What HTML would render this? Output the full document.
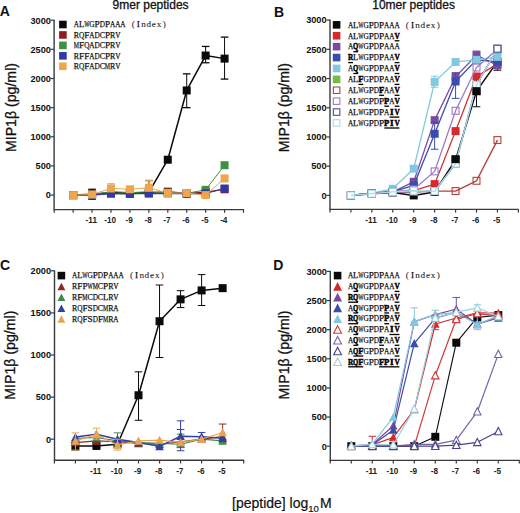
<!DOCTYPE html><html><head><meta charset="utf-8"><style>
html,body{margin:0;padding:0;background:#fff;overflow:hidden;width:520px;height:513px;}
svg{display:block;}
text{font-family:"Liberation Sans",sans-serif;fill:#111;}
.yl{font-size:9.2px;font-weight:bold;}
.xl{font-size:8.2px;font-weight:bold;fill:#222;}
.pl{font-size:14px;font-weight:bold;}
.ti{font-size:12px;stroke:#111;stroke-width:0.3px;}
.yt{font-size:14.15px;stroke:#111;stroke-width:0.3px;}
.lr{font-family:"Liberation Serif",serif;font-size:9.2px;fill:#111;stroke:#111;stroke-width:0.25px;}
.ll{font-family:"Liberation Serif",serif;font-size:9.2px;fill:#222;stroke:#222;stroke-width:0.08px;}
.lb{font-family:"Liberation Serif",serif;font-size:9.2px;font-weight:bold;fill:#000;stroke:#000;stroke-width:0.5px;}
.xt{font-size:14px;stroke:#111;stroke-width:0.2px;}
</style></head><body>
<svg width="520" height="513" viewBox="0 0 520 513">
<rect width="520" height="513" fill="#fff"/>
<text x="-0.2" y="16.4" class="pl">A</text>
<text x="273.9" y="16.6" class="pl">B</text>
<text x="0.0" y="270.1" class="pl">C</text>
<text x="273.2" y="270.4" class="pl">D</text>
<text x="150.6" y="8.8" text-anchor="middle" class="ti">9mer peptides</text>
<text x="413.6" y="8.8" text-anchor="middle" class="ti">10mer peptides</text>
<text transform="translate(16,107.55) rotate(-90)" text-anchor="middle" class="yt">MIP1&#946; (pg/ml)</text>
<text transform="translate(289.4,107.65) rotate(-90)" text-anchor="middle" class="yt">MIP1&#946; (pg/ml)</text>
<text transform="translate(15,355.15) rotate(-90)" text-anchor="middle" class="yt">MIP1&#946; (pg/ml)</text>
<text transform="translate(289.2,354.95) rotate(-90)" text-anchor="middle" class="yt">MIP1&#946; (pg/ml)</text>
<text x="232" y="507.5" class="xt">[peptide] log<tspan font-size="9.5px" dy="4.2">10</tspan><tspan dx="1.2" dy="-4.2">M</tspan></text>
<line x1="54.1" y1="19.7" x2="54.1" y2="209.6" stroke="#3a3a3a" stroke-width="1.4"/>
<line x1="53.4" y1="209.6" x2="244" y2="209.6" stroke="#3a3a3a" stroke-width="1.4"/>
<line x1="50.6" y1="195.1" x2="54.1" y2="195.1" stroke="#3a3a3a" stroke-width="1.2"/>
<text x="50.9" y="198.4" text-anchor="end" class="yl">0</text>
<line x1="50.6" y1="165.95" x2="54.1" y2="165.95" stroke="#3a3a3a" stroke-width="1.2"/>
<text x="50.9" y="169.25" text-anchor="end" class="yl">500</text>
<line x1="50.6" y1="136.8" x2="54.1" y2="136.8" stroke="#3a3a3a" stroke-width="1.2"/>
<text x="50.9" y="140.1" text-anchor="end" class="yl">1000</text>
<line x1="50.6" y1="107.65" x2="54.1" y2="107.65" stroke="#3a3a3a" stroke-width="1.2"/>
<text x="50.9" y="110.95" text-anchor="end" class="yl">1500</text>
<line x1="50.6" y1="78.5" x2="54.1" y2="78.5" stroke="#3a3a3a" stroke-width="1.2"/>
<text x="50.9" y="81.8" text-anchor="end" class="yl">2000</text>
<line x1="50.6" y1="49.35" x2="54.1" y2="49.35" stroke="#3a3a3a" stroke-width="1.2"/>
<text x="50.9" y="52.65" text-anchor="end" class="yl">2500</text>
<line x1="50.6" y1="20.2" x2="54.1" y2="20.2" stroke="#3a3a3a" stroke-width="1.2"/>
<text x="50.9" y="23.5" text-anchor="end" class="yl">3000</text>
<line x1="54.2" y1="209.6" x2="54.2" y2="212.8" stroke="#3a3a3a" stroke-width="1.2"/>
<line x1="73.13" y1="209.6" x2="73.13" y2="212.8" stroke="#3a3a3a" stroke-width="1.2"/>
<line x1="92.06" y1="209.6" x2="92.06" y2="212.8" stroke="#3a3a3a" stroke-width="1.2"/>
<line x1="110.99" y1="209.6" x2="110.99" y2="212.8" stroke="#3a3a3a" stroke-width="1.2"/>
<line x1="129.92" y1="209.6" x2="129.92" y2="212.8" stroke="#3a3a3a" stroke-width="1.2"/>
<line x1="148.85" y1="209.6" x2="148.85" y2="212.8" stroke="#3a3a3a" stroke-width="1.2"/>
<line x1="167.78" y1="209.6" x2="167.78" y2="212.8" stroke="#3a3a3a" stroke-width="1.2"/>
<line x1="186.71" y1="209.6" x2="186.71" y2="212.8" stroke="#3a3a3a" stroke-width="1.2"/>
<line x1="205.64" y1="209.6" x2="205.64" y2="212.8" stroke="#3a3a3a" stroke-width="1.2"/>
<line x1="224.57" y1="209.6" x2="224.57" y2="212.8" stroke="#3a3a3a" stroke-width="1.2"/>
<line x1="243.5" y1="209.6" x2="243.5" y2="212.8" stroke="#3a3a3a" stroke-width="1.2"/>
<text x="91.26" y="223.4" text-anchor="middle" class="xl">-11</text>
<text x="110.19" y="223.4" text-anchor="middle" class="xl">-10</text>
<text x="129.12" y="223.4" text-anchor="middle" class="xl">-9</text>
<text x="148.05" y="223.4" text-anchor="middle" class="xl">-8</text>
<text x="166.98" y="223.4" text-anchor="middle" class="xl">-7</text>
<text x="185.91" y="223.4" text-anchor="middle" class="xl">-6</text>
<text x="204.84" y="223.4" text-anchor="middle" class="xl">-5</text>
<text x="223.77" y="223.4" text-anchor="middle" class="xl">-4</text>
<line x1="330" y1="19.6" x2="330" y2="209.4" stroke="#3a3a3a" stroke-width="1.4"/>
<line x1="329.3" y1="209.4" x2="518.87" y2="209.4" stroke="#3a3a3a" stroke-width="1.4"/>
<line x1="326.5" y1="195.4" x2="330" y2="195.4" stroke="#3a3a3a" stroke-width="1.2"/>
<text x="326.6" y="198.7" text-anchor="end" class="yl">0</text>
<line x1="326.5" y1="166.18" x2="330" y2="166.18" stroke="#3a3a3a" stroke-width="1.2"/>
<text x="326.6" y="169.48" text-anchor="end" class="yl">500</text>
<line x1="326.5" y1="136.97" x2="330" y2="136.97" stroke="#3a3a3a" stroke-width="1.2"/>
<text x="326.6" y="140.27" text-anchor="end" class="yl">1000</text>
<line x1="326.5" y1="107.75" x2="330" y2="107.75" stroke="#3a3a3a" stroke-width="1.2"/>
<text x="326.6" y="111.05" text-anchor="end" class="yl">1500</text>
<line x1="326.5" y1="78.53" x2="330" y2="78.53" stroke="#3a3a3a" stroke-width="1.2"/>
<text x="326.6" y="81.83" text-anchor="end" class="yl">2000</text>
<line x1="326.5" y1="49.32" x2="330" y2="49.32" stroke="#3a3a3a" stroke-width="1.2"/>
<text x="326.6" y="52.62" text-anchor="end" class="yl">2500</text>
<line x1="326.5" y1="20.1" x2="330" y2="20.1" stroke="#3a3a3a" stroke-width="1.2"/>
<text x="326.6" y="23.4" text-anchor="end" class="yl">3000</text>
<line x1="330" y1="209.4" x2="330" y2="212.6" stroke="#3a3a3a" stroke-width="1.2"/>
<line x1="350.93" y1="209.4" x2="350.93" y2="212.6" stroke="#3a3a3a" stroke-width="1.2"/>
<line x1="371.86" y1="209.4" x2="371.86" y2="212.6" stroke="#3a3a3a" stroke-width="1.2"/>
<line x1="392.79" y1="209.4" x2="392.79" y2="212.6" stroke="#3a3a3a" stroke-width="1.2"/>
<line x1="413.72" y1="209.4" x2="413.72" y2="212.6" stroke="#3a3a3a" stroke-width="1.2"/>
<line x1="434.65" y1="209.4" x2="434.65" y2="212.6" stroke="#3a3a3a" stroke-width="1.2"/>
<line x1="455.58" y1="209.4" x2="455.58" y2="212.6" stroke="#3a3a3a" stroke-width="1.2"/>
<line x1="476.51" y1="209.4" x2="476.51" y2="212.6" stroke="#3a3a3a" stroke-width="1.2"/>
<line x1="497.44" y1="209.4" x2="497.44" y2="212.6" stroke="#3a3a3a" stroke-width="1.2"/>
<line x1="518.37" y1="209.4" x2="518.37" y2="212.6" stroke="#3a3a3a" stroke-width="1.2"/>
<text x="371.06" y="223.2" text-anchor="middle" class="xl">-11</text>
<text x="391.99" y="223.2" text-anchor="middle" class="xl">-10</text>
<text x="412.92" y="223.2" text-anchor="middle" class="xl">-9</text>
<text x="433.85" y="223.2" text-anchor="middle" class="xl">-8</text>
<text x="454.78" y="223.2" text-anchor="middle" class="xl">-7</text>
<text x="475.71" y="223.2" text-anchor="middle" class="xl">-6</text>
<text x="496.64" y="223.2" text-anchor="middle" class="xl">-5</text>
<line x1="54.5" y1="270.3" x2="54.5" y2="460.3" stroke="#3a3a3a" stroke-width="1.4"/>
<line x1="53.8" y1="460.3" x2="244.17" y2="460.3" stroke="#3a3a3a" stroke-width="1.4"/>
<line x1="51" y1="439.2" x2="54.5" y2="439.2" stroke="#3a3a3a" stroke-width="1.2"/>
<text x="51" y="442.5" text-anchor="end" class="yl">0</text>
<line x1="51" y1="397.1" x2="54.5" y2="397.1" stroke="#3a3a3a" stroke-width="1.2"/>
<text x="51" y="400.4" text-anchor="end" class="yl">500</text>
<line x1="51" y1="355" x2="54.5" y2="355" stroke="#3a3a3a" stroke-width="1.2"/>
<text x="51" y="358.3" text-anchor="end" class="yl">1000</text>
<line x1="51" y1="312.9" x2="54.5" y2="312.9" stroke="#3a3a3a" stroke-width="1.2"/>
<text x="51" y="316.2" text-anchor="end" class="yl">1500</text>
<line x1="51" y1="270.8" x2="54.5" y2="270.8" stroke="#3a3a3a" stroke-width="1.2"/>
<text x="51" y="274.1" text-anchor="end" class="yl">2000</text>
<line x1="54.4" y1="460.3" x2="54.4" y2="463.5" stroke="#3a3a3a" stroke-width="1.2"/>
<line x1="75.43" y1="460.3" x2="75.43" y2="463.5" stroke="#3a3a3a" stroke-width="1.2"/>
<line x1="96.46" y1="460.3" x2="96.46" y2="463.5" stroke="#3a3a3a" stroke-width="1.2"/>
<line x1="117.49" y1="460.3" x2="117.49" y2="463.5" stroke="#3a3a3a" stroke-width="1.2"/>
<line x1="138.52" y1="460.3" x2="138.52" y2="463.5" stroke="#3a3a3a" stroke-width="1.2"/>
<line x1="159.55" y1="460.3" x2="159.55" y2="463.5" stroke="#3a3a3a" stroke-width="1.2"/>
<line x1="180.58" y1="460.3" x2="180.58" y2="463.5" stroke="#3a3a3a" stroke-width="1.2"/>
<line x1="201.61" y1="460.3" x2="201.61" y2="463.5" stroke="#3a3a3a" stroke-width="1.2"/>
<line x1="222.64" y1="460.3" x2="222.64" y2="463.5" stroke="#3a3a3a" stroke-width="1.2"/>
<line x1="243.67" y1="460.3" x2="243.67" y2="463.5" stroke="#3a3a3a" stroke-width="1.2"/>
<text x="95.66" y="474.1" text-anchor="middle" class="xl">-11</text>
<text x="116.69" y="474.1" text-anchor="middle" class="xl">-10</text>
<text x="137.72" y="474.1" text-anchor="middle" class="xl">-9</text>
<text x="158.75" y="474.1" text-anchor="middle" class="xl">-8</text>
<text x="179.78" y="474.1" text-anchor="middle" class="xl">-7</text>
<text x="200.81" y="474.1" text-anchor="middle" class="xl">-6</text>
<text x="221.84" y="474.1" text-anchor="middle" class="xl">-5</text>
<line x1="330.3" y1="270.9" x2="330.3" y2="460.4" stroke="#3a3a3a" stroke-width="1.4"/>
<line x1="329.6" y1="460.4" x2="519.8" y2="460.4" stroke="#3a3a3a" stroke-width="1.4"/>
<line x1="326.8" y1="446.2" x2="330.3" y2="446.2" stroke="#3a3a3a" stroke-width="1.2"/>
<text x="326.9" y="449.5" text-anchor="end" class="yl">0</text>
<line x1="326.8" y1="417.07" x2="330.3" y2="417.07" stroke="#3a3a3a" stroke-width="1.2"/>
<text x="326.9" y="420.37" text-anchor="end" class="yl">500</text>
<line x1="326.8" y1="387.93" x2="330.3" y2="387.93" stroke="#3a3a3a" stroke-width="1.2"/>
<text x="326.9" y="391.23" text-anchor="end" class="yl">1000</text>
<line x1="326.8" y1="358.8" x2="330.3" y2="358.8" stroke="#3a3a3a" stroke-width="1.2"/>
<text x="326.9" y="362.1" text-anchor="end" class="yl">1500</text>
<line x1="326.8" y1="329.67" x2="330.3" y2="329.67" stroke="#3a3a3a" stroke-width="1.2"/>
<text x="326.9" y="332.97" text-anchor="end" class="yl">2000</text>
<line x1="326.8" y1="300.53" x2="330.3" y2="300.53" stroke="#3a3a3a" stroke-width="1.2"/>
<text x="326.9" y="303.83" text-anchor="end" class="yl">2500</text>
<line x1="326.8" y1="271.4" x2="330.3" y2="271.4" stroke="#3a3a3a" stroke-width="1.2"/>
<text x="326.9" y="274.7" text-anchor="end" class="yl">3000</text>
<line x1="330.3" y1="460.4" x2="330.3" y2="463.6" stroke="#3a3a3a" stroke-width="1.2"/>
<line x1="351.3" y1="460.4" x2="351.3" y2="463.6" stroke="#3a3a3a" stroke-width="1.2"/>
<line x1="372.3" y1="460.4" x2="372.3" y2="463.6" stroke="#3a3a3a" stroke-width="1.2"/>
<line x1="393.3" y1="460.4" x2="393.3" y2="463.6" stroke="#3a3a3a" stroke-width="1.2"/>
<line x1="414.3" y1="460.4" x2="414.3" y2="463.6" stroke="#3a3a3a" stroke-width="1.2"/>
<line x1="435.3" y1="460.4" x2="435.3" y2="463.6" stroke="#3a3a3a" stroke-width="1.2"/>
<line x1="456.3" y1="460.4" x2="456.3" y2="463.6" stroke="#3a3a3a" stroke-width="1.2"/>
<line x1="477.3" y1="460.4" x2="477.3" y2="463.6" stroke="#3a3a3a" stroke-width="1.2"/>
<line x1="498.3" y1="460.4" x2="498.3" y2="463.6" stroke="#3a3a3a" stroke-width="1.2"/>
<line x1="519.3" y1="460.4" x2="519.3" y2="463.6" stroke="#3a3a3a" stroke-width="1.2"/>
<text x="371.5" y="474.2" text-anchor="middle" class="xl">-11</text>
<text x="392.5" y="474.2" text-anchor="middle" class="xl">-10</text>
<text x="413.5" y="474.2" text-anchor="middle" class="xl">-9</text>
<text x="434.5" y="474.2" text-anchor="middle" class="xl">-8</text>
<text x="455.5" y="474.2" text-anchor="middle" class="xl">-7</text>
<text x="476.5" y="474.2" text-anchor="middle" class="xl">-6</text>
<text x="497.5" y="474.2" text-anchor="middle" class="xl">-5</text>
<line x1="92.06" y1="199.18" x2="92.06" y2="189.27" stroke="#0a0a0a" stroke-width="1"/>
<line x1="88.26" y1="199.18" x2="95.86" y2="199.18" stroke="#0a0a0a" stroke-width="1.3"/>
<line x1="88.26" y1="189.27" x2="95.86" y2="189.27" stroke="#0a0a0a" stroke-width="1.3"/>
<line x1="148.85" y1="195.1" x2="148.85" y2="180.53" stroke="#0a0a0a" stroke-width="1"/>
<line x1="145.05" y1="195.1" x2="152.65" y2="195.1" stroke="#0a0a0a" stroke-width="1.3"/>
<line x1="145.05" y1="180.53" x2="152.65" y2="180.53" stroke="#0a0a0a" stroke-width="1.3"/>
<line x1="186.71" y1="107.65" x2="186.71" y2="73.84" stroke="#0a0a0a" stroke-width="1"/>
<line x1="182.91" y1="107.65" x2="190.51" y2="107.65" stroke="#0a0a0a" stroke-width="1.3"/>
<line x1="182.91" y1="73.84" x2="190.51" y2="73.84" stroke="#0a0a0a" stroke-width="1.3"/>
<line x1="205.64" y1="62.76" x2="205.64" y2="46.44" stroke="#0a0a0a" stroke-width="1"/>
<line x1="201.84" y1="62.76" x2="209.44" y2="62.76" stroke="#0a0a0a" stroke-width="1.3"/>
<line x1="201.84" y1="46.44" x2="209.44" y2="46.44" stroke="#0a0a0a" stroke-width="1.3"/>
<line x1="224.57" y1="79.08" x2="224.57" y2="37.11" stroke="#0a0a0a" stroke-width="1"/>
<line x1="220.77" y1="79.08" x2="228.37" y2="79.08" stroke="#0a0a0a" stroke-width="1.3"/>
<line x1="220.77" y1="37.11" x2="228.37" y2="37.11" stroke="#0a0a0a" stroke-width="1.3"/>
<path d="M73.13,195.1 L92.06,194.23 L110.99,192.48 L129.92,192.77 L148.85,192.48 L167.78,159.71 L186.71,90.45 L205.64,55.53 L224.57,58.62" fill="none" stroke="#0a0a0a" stroke-width="1.5" stroke-linejoin="round"/>
<rect x="69.13" y="191.1" width="8" height="8" fill="#0a0a0a"/>
<rect x="88.06" y="190.23" width="8" height="8" fill="#0a0a0a"/>
<rect x="106.99" y="188.48" width="8" height="8" fill="#0a0a0a"/>
<rect x="125.92" y="188.77" width="8" height="8" fill="#0a0a0a"/>
<rect x="144.85" y="188.48" width="8" height="8" fill="#0a0a0a"/>
<rect x="163.78" y="155.71" width="8" height="8" fill="#0a0a0a"/>
<rect x="182.71" y="86.45" width="8" height="8" fill="#0a0a0a"/>
<rect x="201.64" y="51.53" width="8" height="8" fill="#0a0a0a"/>
<rect x="220.57" y="54.62" width="8" height="8" fill="#0a0a0a"/>
<path d="M73.13,195.1 L92.06,194.52 L110.99,193.35 L129.92,193.93 L148.85,192.77 L167.78,191.6 L186.71,193.35 L205.64,192.19 L224.57,189.27" fill="none" stroke="#8c1d22" stroke-width="1.2" stroke-linejoin="round"/>
<rect x="69.13" y="191.1" width="8" height="8" fill="#8c1d22"/>
<rect x="88.06" y="190.52" width="8" height="8" fill="#8c1d22"/>
<rect x="106.99" y="189.35" width="8" height="8" fill="#8c1d22"/>
<rect x="125.92" y="189.93" width="8" height="8" fill="#8c1d22"/>
<rect x="144.85" y="188.77" width="8" height="8" fill="#8c1d22"/>
<rect x="163.78" y="187.6" width="8" height="8" fill="#8c1d22"/>
<rect x="182.71" y="189.35" width="8" height="8" fill="#8c1d22"/>
<rect x="201.64" y="188.19" width="8" height="8" fill="#8c1d22"/>
<rect x="220.57" y="185.27" width="8" height="8" fill="#8c1d22"/>
<path d="M73.13,195.1 L92.06,194.81 L110.99,191.6 L129.92,192.77 L148.85,191.6 L167.78,192.77 L186.71,193.35 L205.64,189.85 L224.57,165.19" fill="none" stroke="#3f8f44" stroke-width="1.0" stroke-linejoin="round"/>
<rect x="69.13" y="191.1" width="8" height="8" fill="#3f8f44"/>
<rect x="88.06" y="190.81" width="8" height="8" fill="#3f8f44"/>
<rect x="106.99" y="187.6" width="8" height="8" fill="#3f8f44"/>
<rect x="125.92" y="188.77" width="8" height="8" fill="#3f8f44"/>
<rect x="144.85" y="187.6" width="8" height="8" fill="#3f8f44"/>
<rect x="163.78" y="188.77" width="8" height="8" fill="#3f8f44"/>
<rect x="182.71" y="189.35" width="8" height="8" fill="#3f8f44"/>
<rect x="201.64" y="185.85" width="8" height="8" fill="#3f8f44"/>
<rect x="220.57" y="161.19" width="8" height="8" fill="#3f8f44"/>
<path d="M73.13,195.1 L92.06,195.1 L110.99,193.64 L129.92,193.64 L148.85,193.64 L167.78,193.35 L186.71,193.93 L205.64,193.35 L224.57,188.51" fill="none" stroke="#2f3aa3" stroke-width="1.2" stroke-linejoin="round"/>
<rect x="69.13" y="191.1" width="8" height="8" fill="#2f3aa3"/>
<rect x="88.06" y="191.1" width="8" height="8" fill="#2f3aa3"/>
<rect x="106.99" y="189.64" width="8" height="8" fill="#2f3aa3"/>
<rect x="125.92" y="189.64" width="8" height="8" fill="#2f3aa3"/>
<rect x="144.85" y="189.64" width="8" height="8" fill="#2f3aa3"/>
<rect x="163.78" y="189.35" width="8" height="8" fill="#2f3aa3"/>
<rect x="182.71" y="189.93" width="8" height="8" fill="#2f3aa3"/>
<rect x="201.64" y="189.35" width="8" height="8" fill="#2f3aa3"/>
<rect x="220.57" y="184.51" width="8" height="8" fill="#2f3aa3"/>
<line x1="110.99" y1="191.6" x2="110.99" y2="183.73" stroke="#eda54e" stroke-width="1"/>
<line x1="107.19" y1="191.6" x2="114.79" y2="191.6" stroke="#eda54e" stroke-width="1.0"/>
<line x1="107.19" y1="183.73" x2="114.79" y2="183.73" stroke="#eda54e" stroke-width="1.0"/>
<line x1="148.85" y1="190.44" x2="148.85" y2="180.53" stroke="#eda54e" stroke-width="1"/>
<line x1="145.05" y1="190.44" x2="152.65" y2="190.44" stroke="#eda54e" stroke-width="1.0"/>
<line x1="145.05" y1="180.53" x2="152.65" y2="180.53" stroke="#eda54e" stroke-width="1.0"/>
<path d="M73.13,195.1 L92.06,194.52 L110.99,188.4 L129.92,189.27 L148.85,187.81 L167.78,193.06 L186.71,193.06 L205.64,195.1 L224.57,178.43" fill="none" stroke="#eda54e" stroke-width="1.0" stroke-linejoin="round"/>
<rect x="69.13" y="191.1" width="8" height="8" fill="#eda54e"/>
<rect x="88.06" y="190.52" width="8" height="8" fill="#eda54e"/>
<rect x="106.99" y="184.4" width="8" height="8" fill="#eda54e"/>
<rect x="125.92" y="185.27" width="8" height="8" fill="#eda54e"/>
<rect x="144.85" y="183.81" width="8" height="8" fill="#eda54e"/>
<rect x="163.78" y="189.06" width="8" height="8" fill="#eda54e"/>
<rect x="182.71" y="189.06" width="8" height="8" fill="#eda54e"/>
<rect x="201.64" y="191.1" width="8" height="8" fill="#eda54e"/>
<rect x="220.57" y="174.43" width="8" height="8" fill="#eda54e"/>
<rect x="59.1" y="20.7" width="7.6" height="7.6" fill="#0a0a0a"/>
<text x="73.85" y="27.3" class="lr" textLength="5.26" lengthAdjust="spacingAndGlyphs">A</text>
<text x="79.01" y="27.3" class="lr" textLength="5.26" lengthAdjust="spacingAndGlyphs">L</text>
<text x="84.17" y="27.3" class="lr" textLength="5.26" lengthAdjust="spacingAndGlyphs">W</text>
<text x="89.33" y="27.3" class="lr" textLength="5.26" lengthAdjust="spacingAndGlyphs">G</text>
<text x="97.12" y="27.3" text-anchor="middle" class="lr">P</text>
<text x="99.65" y="27.3" class="lr" textLength="5.26" lengthAdjust="spacingAndGlyphs">D</text>
<text x="107.44" y="27.3" text-anchor="middle" class="lr">P</text>
<text x="109.97" y="27.3" class="lr" textLength="5.26" lengthAdjust="spacingAndGlyphs">A</text>
<text x="115.13" y="27.3" class="lr" textLength="5.26" lengthAdjust="spacingAndGlyphs">A</text>
<text x="120.29" y="27.3" class="lr" textLength="5.26" lengthAdjust="spacingAndGlyphs">A</text>
<text x="133.24" y="27.3" text-anchor="middle" class="ll">(</text>
<text x="138.4" y="27.3" text-anchor="middle" class="lr">I</text>
<text x="143.56" y="27.3" text-anchor="middle" class="ll">n</text>
<text x="148.72" y="27.3" text-anchor="middle" class="ll">d</text>
<text x="153.88" y="27.3" text-anchor="middle" class="ll">e</text>
<text x="159.04" y="27.3" text-anchor="middle" class="ll">x</text>
<text x="164.2" y="27.3" text-anchor="middle" class="ll">)</text>
<rect x="59.1" y="31.15" width="7.6" height="7.6" fill="#8c1d22"/>
<text x="73.85" y="37.75" class="lr" textLength="5.26" lengthAdjust="spacingAndGlyphs">R</text>
<text x="79.01" y="37.75" class="lr" textLength="5.26" lengthAdjust="spacingAndGlyphs">Q</text>
<text x="86.8" y="37.75" text-anchor="middle" class="lr">F</text>
<text x="89.33" y="37.75" class="lr" textLength="5.26" lengthAdjust="spacingAndGlyphs">A</text>
<text x="94.49" y="37.75" class="lr" textLength="5.26" lengthAdjust="spacingAndGlyphs">D</text>
<text x="99.65" y="37.75" class="lr" textLength="5.26" lengthAdjust="spacingAndGlyphs">C</text>
<text x="107.44" y="37.75" text-anchor="middle" class="lr">P</text>
<text x="109.97" y="37.75" class="lr" textLength="5.26" lengthAdjust="spacingAndGlyphs">R</text>
<text x="115.13" y="37.75" class="lr" textLength="5.26" lengthAdjust="spacingAndGlyphs">V</text>
<rect x="59.1" y="41.6" width="7.6" height="7.6" fill="#3f8f44"/>
<text x="73.85" y="48.2" class="lr" textLength="5.26" lengthAdjust="spacingAndGlyphs">M</text>
<text x="81.64" y="48.2" text-anchor="middle" class="lr">F</text>
<text x="84.17" y="48.2" class="lr" textLength="5.26" lengthAdjust="spacingAndGlyphs">Q</text>
<text x="89.33" y="48.2" class="lr" textLength="5.26" lengthAdjust="spacingAndGlyphs">A</text>
<text x="94.49" y="48.2" class="lr" textLength="5.26" lengthAdjust="spacingAndGlyphs">D</text>
<text x="99.65" y="48.2" class="lr" textLength="5.26" lengthAdjust="spacingAndGlyphs">C</text>
<text x="107.44" y="48.2" text-anchor="middle" class="lr">P</text>
<text x="109.97" y="48.2" class="lr" textLength="5.26" lengthAdjust="spacingAndGlyphs">R</text>
<text x="115.13" y="48.2" class="lr" textLength="5.26" lengthAdjust="spacingAndGlyphs">V</text>
<rect x="59.1" y="52.05" width="7.6" height="7.6" fill="#2f3aa3"/>
<text x="73.85" y="58.65" class="lr" textLength="5.26" lengthAdjust="spacingAndGlyphs">R</text>
<text x="81.64" y="58.65" text-anchor="middle" class="lr">F</text>
<text x="86.8" y="58.65" text-anchor="middle" class="lr">F</text>
<text x="89.33" y="58.65" class="lr" textLength="5.26" lengthAdjust="spacingAndGlyphs">A</text>
<text x="94.49" y="58.65" class="lr" textLength="5.26" lengthAdjust="spacingAndGlyphs">D</text>
<text x="99.65" y="58.65" class="lr" textLength="5.26" lengthAdjust="spacingAndGlyphs">C</text>
<text x="107.44" y="58.65" text-anchor="middle" class="lr">P</text>
<text x="109.97" y="58.65" class="lr" textLength="5.26" lengthAdjust="spacingAndGlyphs">R</text>
<text x="115.13" y="58.65" class="lr" textLength="5.26" lengthAdjust="spacingAndGlyphs">V</text>
<rect x="59.1" y="62.5" width="7.6" height="7.6" fill="#eda54e"/>
<text x="73.85" y="69.1" class="lr" textLength="5.26" lengthAdjust="spacingAndGlyphs">R</text>
<text x="79.01" y="69.1" class="lr" textLength="5.26" lengthAdjust="spacingAndGlyphs">Q</text>
<text x="86.8" y="69.1" text-anchor="middle" class="lr">F</text>
<text x="89.33" y="69.1" class="lr" textLength="5.26" lengthAdjust="spacingAndGlyphs">A</text>
<text x="94.49" y="69.1" class="lr" textLength="5.26" lengthAdjust="spacingAndGlyphs">D</text>
<text x="99.65" y="69.1" class="lr" textLength="5.26" lengthAdjust="spacingAndGlyphs">C</text>
<text x="104.81" y="69.1" class="lr" textLength="5.26" lengthAdjust="spacingAndGlyphs">M</text>
<text x="109.97" y="69.1" class="lr" textLength="5.26" lengthAdjust="spacingAndGlyphs">R</text>
<text x="115.13" y="69.1" class="lr" textLength="5.26" lengthAdjust="spacingAndGlyphs">V</text>
<line x1="476.51" y1="106.76" x2="476.51" y2="75.61" stroke="#0a0a0a" stroke-width="1"/>
<line x1="472.71" y1="106.76" x2="480.31" y2="106.76" stroke="#0a0a0a" stroke-width="1.0"/>
<line x1="472.71" y1="75.61" x2="480.31" y2="75.61" stroke="#0a0a0a" stroke-width="1.0"/>
<line x1="497.44" y1="70.24" x2="497.44" y2="46.63" stroke="#0a0a0a" stroke-width="1"/>
<line x1="493.64" y1="70.24" x2="501.24" y2="70.24" stroke="#0a0a0a" stroke-width="1.0"/>
<line x1="493.64" y1="46.63" x2="501.24" y2="46.63" stroke="#0a0a0a" stroke-width="1.0"/>
<rect x="346.93" y="191.4" width="8" height="8" fill="#0a0a0a"/>
<rect x="367.86" y="189.65" width="8" height="8" fill="#0a0a0a"/>
<rect x="388.79" y="188.48" width="8" height="8" fill="#0a0a0a"/>
<rect x="409.72" y="191.4" width="8" height="8" fill="#0a0a0a"/>
<rect x="430.65" y="187.89" width="8" height="8" fill="#0a0a0a"/>
<rect x="451.58" y="155.87" width="8" height="8" fill="#0a0a0a"/>
<rect x="472.51" y="87.15" width="8" height="8" fill="#0a0a0a"/>
<rect x="493.44" y="57.59" width="8" height="8" fill="#0a0a0a"/>
<path d="M350.93,195.4 L371.86,193.65 L392.79,192.48 L413.72,195.4 L434.65,191.89 L455.58,159.87 L476.51,91.15 L497.44,61.59" fill="none" stroke="#0a0a0a" stroke-width="1.5" stroke-linejoin="round"/>
<rect x="346.93" y="191.4" width="8" height="8" fill="#d42a2e"/>
<rect x="367.86" y="189.06" width="8" height="8" fill="#d42a2e"/>
<rect x="388.79" y="187.89" width="8" height="8" fill="#d42a2e"/>
<rect x="409.72" y="186.73" width="8" height="8" fill="#d42a2e"/>
<rect x="430.65" y="180.12" width="8" height="8" fill="#d42a2e"/>
<rect x="451.58" y="127.12" width="8" height="8" fill="#d42a2e"/>
<rect x="472.51" y="72.49" width="8" height="8" fill="#d42a2e"/>
<rect x="493.44" y="59.93" width="8" height="8" fill="#d42a2e"/>
<path d="M350.93,195.4 L371.86,193.06 L392.79,191.89 L413.72,190.73 L434.65,184.12 L455.58,131.12 L476.51,76.49 L497.44,63.93" fill="none" stroke="#d42a2e" stroke-width="1.3" stroke-linejoin="round"/>
<line x1="476.51" y1="61" x2="476.51" y2="51.07" stroke="#7a4aa0" stroke-width="1"/>
<line x1="472.71" y1="61" x2="480.31" y2="61" stroke="#7a4aa0" stroke-width="1.0"/>
<line x1="472.71" y1="51.07" x2="480.31" y2="51.07" stroke="#7a4aa0" stroke-width="1.0"/>
<rect x="346.93" y="191.4" width="8" height="8" fill="#7a4aa0"/>
<rect x="367.86" y="189.06" width="8" height="8" fill="#7a4aa0"/>
<rect x="388.79" y="187.89" width="8" height="8" fill="#7a4aa0"/>
<rect x="409.72" y="177.79" width="8" height="8" fill="#7a4aa0"/>
<rect x="430.65" y="116.14" width="8" height="8" fill="#7a4aa0"/>
<rect x="451.58" y="72.78" width="8" height="8" fill="#7a4aa0"/>
<rect x="472.51" y="51.16" width="8" height="8" fill="#7a4aa0"/>
<rect x="493.44" y="61.39" width="8" height="8" fill="#7a4aa0"/>
<path d="M350.93,195.4 L371.86,193.06 L392.79,191.89 L413.72,181.79 L434.65,120.14 L455.58,76.78 L476.51,55.16 L497.44,65.39" fill="none" stroke="#7a4aa0" stroke-width="1.3" stroke-linejoin="round"/>
<line x1="434.65" y1="149.24" x2="434.65" y2="122.36" stroke="#3a4cae" stroke-width="1"/>
<line x1="430.85" y1="149.24" x2="438.45" y2="149.24" stroke="#3a4cae" stroke-width="1.0"/>
<line x1="430.85" y1="122.36" x2="438.45" y2="122.36" stroke="#3a4cae" stroke-width="1.0"/>
<line x1="455.58" y1="98.4" x2="455.58" y2="72.69" stroke="#3a4cae" stroke-width="1"/>
<line x1="451.78" y1="98.4" x2="459.38" y2="98.4" stroke="#3a4cae" stroke-width="1.0"/>
<line x1="451.78" y1="72.69" x2="459.38" y2="72.69" stroke="#3a4cae" stroke-width="1.0"/>
<rect x="346.93" y="191.4" width="8" height="8" fill="#3a4cae"/>
<rect x="367.86" y="189.06" width="8" height="8" fill="#3a4cae"/>
<rect x="388.79" y="187.89" width="8" height="8" fill="#3a4cae"/>
<rect x="409.72" y="181.47" width="8" height="8" fill="#3a4cae"/>
<rect x="430.65" y="129.75" width="8" height="8" fill="#3a4cae"/>
<rect x="451.58" y="77.46" width="8" height="8" fill="#3a4cae"/>
<rect x="472.51" y="55.83" width="8" height="8" fill="#3a4cae"/>
<rect x="493.44" y="57.88" width="8" height="8" fill="#3a4cae"/>
<path d="M350.93,195.4 L371.86,193.06 L392.79,191.89 L413.72,185.47 L434.65,133.75 L455.58,81.46 L476.51,59.83 L497.44,61.88" fill="none" stroke="#3a4cae" stroke-width="1.3" stroke-linejoin="round"/>
<line x1="434.65" y1="87.3" x2="434.65" y2="76.2" stroke="#82c8e0" stroke-width="1"/>
<line x1="430.85" y1="87.3" x2="438.45" y2="87.3" stroke="#82c8e0" stroke-width="1.0"/>
<line x1="430.85" y1="76.2" x2="438.45" y2="76.2" stroke="#82c8e0" stroke-width="1.0"/>
<rect x="346.93" y="191.4" width="8" height="8" fill="#82c8e0"/>
<rect x="367.86" y="189.06" width="8" height="8" fill="#82c8e0"/>
<rect x="388.79" y="184.8" width="8" height="8" fill="#82c8e0"/>
<rect x="409.72" y="164.7" width="8" height="8" fill="#82c8e0"/>
<rect x="430.65" y="77.86" width="8" height="8" fill="#82c8e0"/>
<rect x="451.58" y="57.94" width="8" height="8" fill="#82c8e0"/>
<rect x="472.51" y="55.83" width="8" height="8" fill="#82c8e0"/>
<rect x="493.44" y="52.91" width="8" height="8" fill="#82c8e0"/>
<path d="M350.93,195.4 L371.86,193.06 L392.79,188.8 L413.72,168.7 L434.65,81.86 L455.58,61.94 L476.51,59.83 L497.44,56.91" fill="none" stroke="#82c8e0" stroke-width="1.3" stroke-linejoin="round"/>
<rect x="347.48" y="191.95" width="6.9" height="6.9" fill="#fff" stroke="#b8403a" stroke-width="1.1"/>
<rect x="368.41" y="189.61" width="6.9" height="6.9" fill="#fff" stroke="#b8403a" stroke-width="1.1"/>
<rect x="389.34" y="188.44" width="6.9" height="6.9" fill="#fff" stroke="#b8403a" stroke-width="1.1"/>
<rect x="410.27" y="188.44" width="6.9" height="6.9" fill="#fff" stroke="#b8403a" stroke-width="1.1"/>
<rect x="431.2" y="187.63" width="6.9" height="6.9" fill="#fff" stroke="#b8403a" stroke-width="1.1"/>
<rect x="452.13" y="187.63" width="6.9" height="6.9" fill="#fff" stroke="#b8403a" stroke-width="1.1"/>
<rect x="473.06" y="177.34" width="6.9" height="6.9" fill="#fff" stroke="#b8403a" stroke-width="1.1"/>
<rect x="493.99" y="136.61" width="6.9" height="6.9" fill="#fff" stroke="#b8403a" stroke-width="1.1"/>
<path d="M350.93,195.4 L371.86,193.06 L392.79,191.89 L413.72,191.89 L434.65,191.08 L455.58,191.08 L476.51,180.79 L497.44,140.06" fill="none" stroke="#b8403a" stroke-width="1.4" stroke-linejoin="round"/>
<rect x="347.48" y="191.95" width="6.9" height="6.9" fill="#fff" stroke="#9a7ac0" stroke-width="1.1"/>
<rect x="368.41" y="190.2" width="6.9" height="6.9" fill="#fff" stroke="#9a7ac0" stroke-width="1.1"/>
<rect x="389.34" y="188.44" width="6.9" height="6.9" fill="#fff" stroke="#9a7ac0" stroke-width="1.1"/>
<rect x="410.27" y="186.11" width="6.9" height="6.9" fill="#fff" stroke="#9a7ac0" stroke-width="1.1"/>
<rect x="431.2" y="167.93" width="6.9" height="6.9" fill="#fff" stroke="#9a7ac0" stroke-width="1.1"/>
<rect x="452.13" y="107.34" width="6.9" height="6.9" fill="#fff" stroke="#9a7ac0" stroke-width="1.1"/>
<rect x="473.06" y="64.1" width="6.9" height="6.9" fill="#fff" stroke="#9a7ac0" stroke-width="1.1"/>
<rect x="493.99" y="45.87" width="6.9" height="6.9" fill="#fff" stroke="#9a7ac0" stroke-width="1.1"/>
<path d="M350.93,195.4 L371.86,193.65 L392.79,191.89 L413.72,189.56 L434.65,171.38 L455.58,110.79 L476.51,67.55 L497.44,49.32" fill="none" stroke="#9a7ac0" stroke-width="1.3" stroke-linejoin="round"/>
<rect x="347.48" y="191.95" width="6.9" height="6.9" fill="#fff" stroke="#4a4e90" stroke-width="1.1"/>
<rect x="368.41" y="190.2" width="6.9" height="6.9" fill="#fff" stroke="#4a4e90" stroke-width="1.1"/>
<rect x="389.34" y="188.44" width="6.9" height="6.9" fill="#fff" stroke="#4a4e90" stroke-width="1.1"/>
<rect x="410.27" y="188.44" width="6.9" height="6.9" fill="#fff" stroke="#4a4e90" stroke-width="1.1"/>
<rect x="431.2" y="187.63" width="6.9" height="6.9" fill="#fff" stroke="#4a4e90" stroke-width="1.1"/>
<rect x="452.13" y="160.1" width="6.9" height="6.9" fill="#fff" stroke="#4a4e90" stroke-width="1.1"/>
<rect x="473.06" y="81.51" width="6.9" height="6.9" fill="#fff" stroke="#4a4e90" stroke-width="1.1"/>
<rect x="493.99" y="45.28" width="6.9" height="6.9" fill="#fff" stroke="#4a4e90" stroke-width="1.1"/>
<path d="M350.93,195.4 L371.86,193.65 L392.79,191.89 L413.72,191.89 L434.65,191.08 L455.58,163.55 L476.51,84.96 L497.44,48.73" fill="none" stroke="#4a4e90" stroke-width="1.4" stroke-linejoin="round"/>
<rect x="347.48" y="191.95" width="6.9" height="6.9" fill="#fff" stroke="#a8dce4" stroke-width="1.1"/>
<rect x="368.41" y="190.2" width="6.9" height="6.9" fill="#fff" stroke="#a8dce4" stroke-width="1.1"/>
<rect x="389.34" y="188.44" width="6.9" height="6.9" fill="#fff" stroke="#a8dce4" stroke-width="1.1"/>
<rect x="410.27" y="187.28" width="6.9" height="6.9" fill="#fff" stroke="#a8dce4" stroke-width="1.1"/>
<rect x="431.2" y="187.63" width="6.9" height="6.9" fill="#fff" stroke="#a8dce4" stroke-width="1.1"/>
<rect x="452.13" y="160.1" width="6.9" height="6.9" fill="#fff" stroke="#a8dce4" stroke-width="1.1"/>
<rect x="473.06" y="81.51" width="6.9" height="6.9" fill="#fff" stroke="#a8dce4" stroke-width="1.1"/>
<rect x="493.99" y="45.28" width="6.9" height="6.9" fill="#fff" stroke="#a8dce4" stroke-width="1.1"/>
<path d="M350.93,195.4 L371.86,193.65 L392.79,191.89 L413.72,190.73 L434.65,191.08 L455.58,163.55 L476.51,84.96 L497.44,48.73" fill="none" stroke="#a8dce4" stroke-width="1.3" stroke-linejoin="round"/>
<rect x="451.58" y="155.17" width="8" height="8" fill="#0a0a0a"/>
<rect x="472.51" y="87.15" width="8" height="8" fill="#0a0a0a"/>
<rect x="493.99" y="45.28" width="6.9" height="6.9" fill="#fff" stroke="#4a4e90" stroke-width="1.1"/>
<rect x="332.8" y="21.05" width="7.6" height="7.6" fill="#0a0a0a"/>
<text x="347.95" y="27.65" class="lr" textLength="5.26" lengthAdjust="spacingAndGlyphs">A</text>
<text x="353.11" y="27.65" class="lr" textLength="5.26" lengthAdjust="spacingAndGlyphs">L</text>
<text x="358.27" y="27.65" class="lr" textLength="5.26" lengthAdjust="spacingAndGlyphs">W</text>
<text x="363.43" y="27.65" class="lr" textLength="5.26" lengthAdjust="spacingAndGlyphs">G</text>
<text x="371.22" y="27.65" text-anchor="middle" class="lr">P</text>
<text x="373.75" y="27.65" class="lr" textLength="5.26" lengthAdjust="spacingAndGlyphs">D</text>
<text x="381.54" y="27.65" text-anchor="middle" class="lr">P</text>
<text x="384.07" y="27.65" class="lr" textLength="5.26" lengthAdjust="spacingAndGlyphs">A</text>
<text x="389.23" y="27.65" class="lr" textLength="5.26" lengthAdjust="spacingAndGlyphs">A</text>
<text x="394.39" y="27.65" class="lr" textLength="5.26" lengthAdjust="spacingAndGlyphs">A</text>
<text x="407.34" y="27.65" text-anchor="middle" class="ll">(</text>
<text x="412.5" y="27.65" text-anchor="middle" class="lr">I</text>
<text x="417.66" y="27.65" text-anchor="middle" class="ll">n</text>
<text x="422.82" y="27.65" text-anchor="middle" class="ll">d</text>
<text x="427.98" y="27.65" text-anchor="middle" class="ll">e</text>
<text x="433.14" y="27.65" text-anchor="middle" class="ll">x</text>
<text x="438.3" y="27.65" text-anchor="middle" class="ll">)</text>
<rect x="332.8" y="31.95" width="7.6" height="7.6" fill="#d42a2e"/>
<text x="347.95" y="38.55" class="lr" textLength="5.26" lengthAdjust="spacingAndGlyphs">A</text>
<text x="353.11" y="38.55" class="lr" textLength="5.26" lengthAdjust="spacingAndGlyphs">L</text>
<text x="358.27" y="38.55" class="lr" textLength="5.26" lengthAdjust="spacingAndGlyphs">W</text>
<text x="363.43" y="38.55" class="lr" textLength="5.26" lengthAdjust="spacingAndGlyphs">G</text>
<text x="371.22" y="38.55" text-anchor="middle" class="lr">P</text>
<text x="373.75" y="38.55" class="lr" textLength="5.26" lengthAdjust="spacingAndGlyphs">D</text>
<text x="381.54" y="38.55" text-anchor="middle" class="lr">P</text>
<text x="384.07" y="38.55" class="lr" textLength="5.26" lengthAdjust="spacingAndGlyphs">A</text>
<text x="389.23" y="38.55" class="lr" textLength="5.26" lengthAdjust="spacingAndGlyphs">A</text>
<text x="394.39" y="38.55" class="lb" textLength="5.26" lengthAdjust="spacingAndGlyphs">V</text>
<rect x="394.64" y="40.15" width="4.76" height="1.3" fill="#000"/>
<rect x="332.8" y="42.85" width="7.6" height="7.6" fill="#7a4aa0"/>
<text x="347.95" y="49.45" class="lr" textLength="5.26" lengthAdjust="spacingAndGlyphs">A</text>
<text x="353.11" y="49.45" class="lb" textLength="5.26" lengthAdjust="spacingAndGlyphs">Q</text>
<text x="358.27" y="49.45" class="lr" textLength="5.26" lengthAdjust="spacingAndGlyphs">W</text>
<text x="363.43" y="49.45" class="lr" textLength="5.26" lengthAdjust="spacingAndGlyphs">G</text>
<text x="371.22" y="49.45" text-anchor="middle" class="lr">P</text>
<text x="373.75" y="49.45" class="lr" textLength="5.26" lengthAdjust="spacingAndGlyphs">D</text>
<text x="381.54" y="49.45" text-anchor="middle" class="lr">P</text>
<text x="384.07" y="49.45" class="lr" textLength="5.26" lengthAdjust="spacingAndGlyphs">A</text>
<text x="389.23" y="49.45" class="lr" textLength="5.26" lengthAdjust="spacingAndGlyphs">A</text>
<text x="394.39" y="49.45" class="lr" textLength="5.26" lengthAdjust="spacingAndGlyphs">A</text>
<rect x="353.36" y="51.05" width="4.76" height="1.3" fill="#000"/>
<rect x="332.8" y="53.75" width="7.6" height="7.6" fill="#3a4cae"/>
<text x="347.95" y="60.35" class="lb" textLength="5.26" lengthAdjust="spacingAndGlyphs">R</text>
<text x="353.11" y="60.35" class="lr" textLength="5.26" lengthAdjust="spacingAndGlyphs">L</text>
<text x="358.27" y="60.35" class="lr" textLength="5.26" lengthAdjust="spacingAndGlyphs">W</text>
<text x="363.43" y="60.35" class="lr" textLength="5.26" lengthAdjust="spacingAndGlyphs">G</text>
<text x="371.22" y="60.35" text-anchor="middle" class="lr">P</text>
<text x="373.75" y="60.35" class="lr" textLength="5.26" lengthAdjust="spacingAndGlyphs">D</text>
<text x="381.54" y="60.35" text-anchor="middle" class="lr">P</text>
<text x="384.07" y="60.35" class="lr" textLength="5.26" lengthAdjust="spacingAndGlyphs">A</text>
<text x="389.23" y="60.35" class="lr" textLength="5.26" lengthAdjust="spacingAndGlyphs">A</text>
<text x="394.39" y="60.35" class="lb" textLength="5.26" lengthAdjust="spacingAndGlyphs">V</text>
<rect x="348.2" y="61.95" width="4.76" height="1.3" fill="#000"/>
<rect x="394.64" y="61.95" width="4.76" height="1.3" fill="#000"/>
<rect x="332.8" y="64.65" width="7.6" height="7.6" fill="#82c8e0"/>
<text x="347.95" y="71.25" class="lr" textLength="5.26" lengthAdjust="spacingAndGlyphs">A</text>
<text x="353.11" y="71.25" class="lb" textLength="5.26" lengthAdjust="spacingAndGlyphs">Q</text>
<text x="358.27" y="71.25" class="lr" textLength="5.26" lengthAdjust="spacingAndGlyphs">W</text>
<text x="363.43" y="71.25" class="lr" textLength="5.26" lengthAdjust="spacingAndGlyphs">G</text>
<text x="371.22" y="71.25" text-anchor="middle" class="lr">P</text>
<text x="373.75" y="71.25" class="lr" textLength="5.26" lengthAdjust="spacingAndGlyphs">D</text>
<text x="381.54" y="71.25" text-anchor="middle" class="lr">P</text>
<text x="384.07" y="71.25" class="lr" textLength="5.26" lengthAdjust="spacingAndGlyphs">A</text>
<text x="389.23" y="71.25" class="lr" textLength="5.26" lengthAdjust="spacingAndGlyphs">A</text>
<text x="394.39" y="71.25" class="lb" textLength="5.26" lengthAdjust="spacingAndGlyphs">V</text>
<rect x="353.36" y="72.85" width="4.76" height="1.3" fill="#000"/>
<rect x="394.64" y="72.85" width="4.76" height="1.3" fill="#000"/>
<rect x="332.8" y="75.55" width="7.6" height="7.6" fill="#74bb48"/>
<text x="347.95" y="82.15" class="lr" textLength="5.26" lengthAdjust="spacingAndGlyphs">A</text>
<text x="353.11" y="82.15" class="lr" textLength="5.26" lengthAdjust="spacingAndGlyphs">L</text>
<text x="358.27" y="82.15" class="lb" textLength="5.26" lengthAdjust="spacingAndGlyphs">F</text>
<text x="363.43" y="82.15" class="lr" textLength="5.26" lengthAdjust="spacingAndGlyphs">G</text>
<text x="371.22" y="82.15" text-anchor="middle" class="lr">P</text>
<text x="373.75" y="82.15" class="lr" textLength="5.26" lengthAdjust="spacingAndGlyphs">D</text>
<text x="381.54" y="82.15" text-anchor="middle" class="lr">P</text>
<text x="384.07" y="82.15" class="lr" textLength="5.26" lengthAdjust="spacingAndGlyphs">A</text>
<text x="389.23" y="82.15" class="lr" textLength="5.26" lengthAdjust="spacingAndGlyphs">A</text>
<text x="394.39" y="82.15" class="lb" textLength="5.26" lengthAdjust="spacingAndGlyphs">V</text>
<rect x="358.52" y="83.75" width="4.76" height="1.3" fill="#000"/>
<rect x="394.64" y="83.75" width="4.76" height="1.3" fill="#000"/>
<rect x="333.35" y="87" width="6.5" height="6.5" fill="#fff" stroke="#b8403a" stroke-width="1.1"/>
<text x="347.95" y="93.05" class="lr" textLength="5.26" lengthAdjust="spacingAndGlyphs">A</text>
<text x="353.11" y="93.05" class="lr" textLength="5.26" lengthAdjust="spacingAndGlyphs">L</text>
<text x="358.27" y="93.05" class="lr" textLength="5.26" lengthAdjust="spacingAndGlyphs">W</text>
<text x="363.43" y="93.05" class="lr" textLength="5.26" lengthAdjust="spacingAndGlyphs">G</text>
<text x="371.22" y="93.05" text-anchor="middle" class="lr">P</text>
<text x="373.75" y="93.05" class="lr" textLength="5.26" lengthAdjust="spacingAndGlyphs">D</text>
<text x="378.91" y="93.05" class="lb" textLength="5.26" lengthAdjust="spacingAndGlyphs">F</text>
<text x="384.07" y="93.05" class="lr" textLength="5.26" lengthAdjust="spacingAndGlyphs">A</text>
<text x="389.23" y="93.05" class="lr" textLength="5.26" lengthAdjust="spacingAndGlyphs">A</text>
<text x="394.39" y="93.05" class="lb" textLength="5.26" lengthAdjust="spacingAndGlyphs">V</text>
<rect x="379.16" y="94.65" width="4.76" height="1.3" fill="#000"/>
<rect x="394.64" y="94.65" width="4.76" height="1.3" fill="#000"/>
<rect x="333.35" y="97.9" width="6.5" height="6.5" fill="#fff" stroke="#9a7ac0" stroke-width="1.1"/>
<text x="347.95" y="103.95" class="lr" textLength="5.26" lengthAdjust="spacingAndGlyphs">A</text>
<text x="353.11" y="103.95" class="lr" textLength="5.26" lengthAdjust="spacingAndGlyphs">L</text>
<text x="358.27" y="103.95" class="lr" textLength="5.26" lengthAdjust="spacingAndGlyphs">W</text>
<text x="363.43" y="103.95" class="lr" textLength="5.26" lengthAdjust="spacingAndGlyphs">G</text>
<text x="371.22" y="103.95" text-anchor="middle" class="lr">P</text>
<text x="373.75" y="103.95" class="lr" textLength="5.26" lengthAdjust="spacingAndGlyphs">D</text>
<text x="381.54" y="103.95" text-anchor="middle" class="lr">P</text>
<text x="384.07" y="103.95" class="lb" textLength="5.26" lengthAdjust="spacingAndGlyphs">P</text>
<text x="389.23" y="103.95" class="lr" textLength="5.26" lengthAdjust="spacingAndGlyphs">A</text>
<text x="394.39" y="103.95" class="lb" textLength="5.26" lengthAdjust="spacingAndGlyphs">V</text>
<rect x="384.32" y="105.55" width="4.76" height="1.3" fill="#000"/>
<rect x="394.64" y="105.55" width="4.76" height="1.3" fill="#000"/>
<rect x="333.35" y="108.8" width="6.5" height="6.5" fill="#fff" stroke="#4a4e90" stroke-width="1.1"/>
<text x="347.95" y="114.85" class="lr" textLength="5.26" lengthAdjust="spacingAndGlyphs">A</text>
<text x="353.11" y="114.85" class="lr" textLength="5.26" lengthAdjust="spacingAndGlyphs">L</text>
<text x="358.27" y="114.85" class="lr" textLength="5.26" lengthAdjust="spacingAndGlyphs">W</text>
<text x="363.43" y="114.85" class="lr" textLength="5.26" lengthAdjust="spacingAndGlyphs">G</text>
<text x="371.22" y="114.85" text-anchor="middle" class="lr">P</text>
<text x="373.75" y="114.85" class="lr" textLength="5.26" lengthAdjust="spacingAndGlyphs">D</text>
<text x="381.54" y="114.85" text-anchor="middle" class="lr">P</text>
<text x="384.07" y="114.85" class="lr" textLength="5.26" lengthAdjust="spacingAndGlyphs">A</text>
<text x="391.86" y="114.85" text-anchor="middle" class="lb">I</text>
<text x="394.39" y="114.85" class="lb" textLength="5.26" lengthAdjust="spacingAndGlyphs">V</text>
<rect x="389.48" y="116.45" width="9.92" height="1.3" fill="#000"/>
<rect x="333.35" y="119.7" width="6.5" height="6.5" fill="#fff" stroke="#a8dce4" stroke-width="1.1"/>
<text x="347.95" y="125.75" class="lr" textLength="5.26" lengthAdjust="spacingAndGlyphs">A</text>
<text x="353.11" y="125.75" class="lr" textLength="5.26" lengthAdjust="spacingAndGlyphs">L</text>
<text x="358.27" y="125.75" class="lr" textLength="5.26" lengthAdjust="spacingAndGlyphs">W</text>
<text x="363.43" y="125.75" class="lr" textLength="5.26" lengthAdjust="spacingAndGlyphs">G</text>
<text x="371.22" y="125.75" text-anchor="middle" class="lr">P</text>
<text x="373.75" y="125.75" class="lr" textLength="5.26" lengthAdjust="spacingAndGlyphs">D</text>
<text x="381.54" y="125.75" text-anchor="middle" class="lr">P</text>
<text x="384.07" y="125.75" class="lb" textLength="5.26" lengthAdjust="spacingAndGlyphs">P</text>
<text x="391.86" y="125.75" text-anchor="middle" class="lb">I</text>
<text x="394.39" y="125.75" class="lb" textLength="5.26" lengthAdjust="spacingAndGlyphs">V</text>
<rect x="384.32" y="127.35" width="15.08" height="1.3" fill="#000"/>
<line x1="75.43" y1="450.15" x2="75.43" y2="442.57" stroke="#0a0a0a" stroke-width="1"/>
<line x1="71.63" y1="450.15" x2="79.23" y2="450.15" stroke="#0a0a0a" stroke-width="1.0"/>
<line x1="71.63" y1="442.57" x2="79.23" y2="442.57" stroke="#0a0a0a" stroke-width="1.0"/>
<line x1="96.46" y1="447.62" x2="96.46" y2="442.57" stroke="#0a0a0a" stroke-width="1"/>
<line x1="92.66" y1="447.62" x2="100.26" y2="447.62" stroke="#0a0a0a" stroke-width="1.0"/>
<line x1="92.66" y1="442.57" x2="100.26" y2="442.57" stroke="#0a0a0a" stroke-width="1.0"/>
<line x1="138.52" y1="420.25" x2="138.52" y2="371.84" stroke="#0a0a0a" stroke-width="1"/>
<line x1="134.72" y1="420.25" x2="142.32" y2="420.25" stroke="#0a0a0a" stroke-width="1.0"/>
<line x1="134.72" y1="371.84" x2="142.32" y2="371.84" stroke="#0a0a0a" stroke-width="1.0"/>
<line x1="159.55" y1="357.53" x2="159.55" y2="285.03" stroke="#0a0a0a" stroke-width="1"/>
<line x1="155.75" y1="357.53" x2="163.35" y2="357.53" stroke="#0a0a0a" stroke-width="1.0"/>
<line x1="155.75" y1="285.03" x2="163.35" y2="285.03" stroke="#0a0a0a" stroke-width="1.0"/>
<line x1="180.58" y1="307.6" x2="180.58" y2="290.67" stroke="#0a0a0a" stroke-width="1"/>
<line x1="176.78" y1="307.6" x2="184.38" y2="307.6" stroke="#0a0a0a" stroke-width="1.0"/>
<line x1="176.78" y1="290.67" x2="184.38" y2="290.67" stroke="#0a0a0a" stroke-width="1.0"/>
<line x1="201.61" y1="305.49" x2="201.61" y2="274.59" stroke="#0a0a0a" stroke-width="1"/>
<line x1="197.81" y1="305.49" x2="205.41" y2="305.49" stroke="#0a0a0a" stroke-width="1.0"/>
<line x1="197.81" y1="274.59" x2="205.41" y2="274.59" stroke="#0a0a0a" stroke-width="1.0"/>
<path d="M75.43,445.94 L96.46,445.94 L117.49,444.25 L138.52,395.25 L159.55,321.24 L180.58,299.34 L201.61,290.42 L222.64,288.15" fill="none" stroke="#0a0a0a" stroke-width="1.5" stroke-linejoin="round"/>
<rect x="71.43" y="441.94" width="8" height="8" fill="#0a0a0a"/>
<rect x="92.46" y="441.94" width="8" height="8" fill="#0a0a0a"/>
<rect x="113.49" y="440.25" width="8" height="8" fill="#0a0a0a"/>
<rect x="134.52" y="391.25" width="8" height="8" fill="#0a0a0a"/>
<rect x="155.55" y="317.24" width="8" height="8" fill="#0a0a0a"/>
<rect x="176.58" y="295.34" width="8" height="8" fill="#0a0a0a"/>
<rect x="197.61" y="286.42" width="8" height="8" fill="#0a0a0a"/>
<rect x="218.64" y="284.15" width="8" height="8" fill="#0a0a0a"/>
<line x1="180.58" y1="447.62" x2="180.58" y2="429.52" stroke="#8c2a22" stroke-width="1"/>
<line x1="176.78" y1="447.62" x2="184.38" y2="447.62" stroke="#8c2a22" stroke-width="1.0"/>
<line x1="176.78" y1="429.52" x2="184.38" y2="429.52" stroke="#8c2a22" stroke-width="1.0"/>
<line x1="222.64" y1="442.57" x2="222.64" y2="424.04" stroke="#8c2a22" stroke-width="1"/>
<line x1="218.84" y1="442.57" x2="226.44" y2="442.57" stroke="#8c2a22" stroke-width="1.0"/>
<line x1="218.84" y1="424.04" x2="226.44" y2="424.04" stroke="#8c2a22" stroke-width="1.0"/>
<path d="M75.43,442.57 L96.46,440.88 L117.49,441.73 L138.52,443.41 L159.55,444.25 L180.58,441.73 L201.61,439.2 L222.64,436.67" fill="none" stroke="#8c2a22" stroke-width="1.2" stroke-linejoin="round"/>
<polygon points="75.43,438.17 79.73,446.37 71.13,446.37" fill="#8c2a22"/>
<polygon points="96.46,436.48 100.76,444.68 92.16,444.68" fill="#8c2a22"/>
<polygon points="117.49,437.33 121.79,445.53 113.19,445.53" fill="#8c2a22"/>
<polygon points="138.52,439.01 142.82,447.21 134.22,447.21" fill="#8c2a22"/>
<polygon points="159.55,439.85 163.85,448.05 155.25,448.05" fill="#8c2a22"/>
<polygon points="180.58,437.33 184.88,445.53 176.28,445.53" fill="#8c2a22"/>
<polygon points="201.61,434.8 205.91,443 197.31,443" fill="#8c2a22"/>
<polygon points="222.64,432.27 226.94,440.47 218.34,440.47" fill="#8c2a22"/>
<line x1="117.49" y1="444.25" x2="117.49" y2="432.88" stroke="#3f8a4a" stroke-width="1"/>
<line x1="113.69" y1="444.25" x2="121.29" y2="444.25" stroke="#3f8a4a" stroke-width="1.0"/>
<line x1="113.69" y1="432.88" x2="121.29" y2="432.88" stroke="#3f8a4a" stroke-width="1.0"/>
<line x1="180.58" y1="441.73" x2="180.58" y2="434.15" stroke="#3f8a4a" stroke-width="1"/>
<line x1="176.78" y1="441.73" x2="184.38" y2="441.73" stroke="#3f8a4a" stroke-width="1.0"/>
<line x1="176.78" y1="434.15" x2="184.38" y2="434.15" stroke="#3f8a4a" stroke-width="1.0"/>
<path d="M75.43,438.36 L96.46,437.52 L117.49,440.88 L138.52,442.57 L159.55,443.41 L180.58,444.25 L201.61,439.2 L222.64,440.88" fill="none" stroke="#3f8a4a" stroke-width="1.2" stroke-linejoin="round"/>
<polygon points="75.43,433.96 79.73,442.16 71.13,442.16" fill="#3f8a4a"/>
<polygon points="96.46,433.12 100.76,441.32 92.16,441.32" fill="#3f8a4a"/>
<polygon points="117.49,436.48 121.79,444.68 113.19,444.68" fill="#3f8a4a"/>
<polygon points="138.52,438.17 142.82,446.37 134.22,446.37" fill="#3f8a4a"/>
<polygon points="159.55,439.01 163.85,447.21 155.25,447.21" fill="#3f8a4a"/>
<polygon points="180.58,439.85 184.88,448.05 176.28,448.05" fill="#3f8a4a"/>
<polygon points="201.61,434.8 205.91,443 197.31,443" fill="#3f8a4a"/>
<polygon points="222.64,436.48 226.94,444.68 218.34,444.68" fill="#3f8a4a"/>
<line x1="180.58" y1="450.74" x2="180.58" y2="420.84" stroke="#3040a8" stroke-width="1"/>
<line x1="176.78" y1="450.74" x2="184.38" y2="450.74" stroke="#3040a8" stroke-width="1.0"/>
<line x1="176.78" y1="420.84" x2="184.38" y2="420.84" stroke="#3040a8" stroke-width="1.0"/>
<line x1="201.61" y1="440.88" x2="201.61" y2="432.46" stroke="#3040a8" stroke-width="1"/>
<line x1="197.81" y1="440.88" x2="205.41" y2="440.88" stroke="#3040a8" stroke-width="1.0"/>
<line x1="197.81" y1="432.46" x2="205.41" y2="432.46" stroke="#3040a8" stroke-width="1.0"/>
<path d="M75.43,437.09 L96.46,434.15 L117.49,439.2 L138.52,442.57 L159.55,446.36 L180.58,436.25 L201.61,436.67 L222.64,438.19" fill="none" stroke="#3040a8" stroke-width="1.5" stroke-linejoin="round"/>
<polygon points="75.43,432.69 79.73,440.89 71.13,440.89" fill="#3040a8"/>
<polygon points="96.46,429.75 100.76,437.95 92.16,437.95" fill="#3040a8"/>
<polygon points="117.49,434.8 121.79,443 113.19,443" fill="#3040a8"/>
<polygon points="138.52,438.17 142.82,446.37 134.22,446.37" fill="#3040a8"/>
<polygon points="159.55,441.96 163.85,450.16 155.25,450.16" fill="#3040a8"/>
<polygon points="180.58,431.85 184.88,440.05 176.28,440.05" fill="#3040a8"/>
<polygon points="201.61,432.27 205.91,440.47 197.31,440.47" fill="#3040a8"/>
<polygon points="222.64,433.79 226.94,441.99 218.34,441.99" fill="#3040a8"/>
<line x1="75.43" y1="450.15" x2="75.43" y2="432.88" stroke="#eaa450" stroke-width="1"/>
<line x1="71.63" y1="450.15" x2="79.23" y2="450.15" stroke="#eaa450" stroke-width="1.0"/>
<line x1="71.63" y1="432.88" x2="79.23" y2="432.88" stroke="#eaa450" stroke-width="1.0"/>
<line x1="96.46" y1="439.2" x2="96.46" y2="428.17" stroke="#eaa450" stroke-width="1"/>
<line x1="92.66" y1="439.2" x2="100.26" y2="439.2" stroke="#eaa450" stroke-width="1.0"/>
<line x1="92.66" y1="428.17" x2="100.26" y2="428.17" stroke="#eaa450" stroke-width="1.0"/>
<line x1="117.49" y1="450.15" x2="117.49" y2="439.2" stroke="#eaa450" stroke-width="1"/>
<line x1="113.69" y1="450.15" x2="121.29" y2="450.15" stroke="#eaa450" stroke-width="1.0"/>
<line x1="113.69" y1="439.2" x2="121.29" y2="439.2" stroke="#eaa450" stroke-width="1.0"/>
<path d="M75.43,440.88 L96.46,434.32 L117.49,444.93 L138.52,440.97 L159.55,440.04 L180.58,442.4 L201.61,439.2 L222.64,432.46" fill="none" stroke="#eaa450" stroke-width="1.2" stroke-linejoin="round"/>
<polygon points="75.43,436.48 79.73,444.68 71.13,444.68" fill="#eaa450"/>
<polygon points="96.46,429.92 100.76,438.12 92.16,438.12" fill="#eaa450"/>
<polygon points="117.49,440.53 121.79,448.73 113.19,448.73" fill="#eaa450"/>
<polygon points="138.52,436.57 142.82,444.77 134.22,444.77" fill="#eaa450"/>
<polygon points="159.55,435.64 163.85,443.84 155.25,443.84" fill="#eaa450"/>
<polygon points="180.58,438 184.88,446.2 176.28,446.2" fill="#eaa450"/>
<polygon points="201.61,434.8 205.91,443 197.31,443" fill="#eaa450"/>
<polygon points="222.64,428.06 226.94,436.26 218.34,436.26" fill="#eaa450"/>
<rect x="57.6" y="271.8" width="7.6" height="7.6" fill="#0a0a0a"/>
<text x="72.05" y="278.4" class="lr" textLength="5.26" lengthAdjust="spacingAndGlyphs">A</text>
<text x="77.21" y="278.4" class="lr" textLength="5.26" lengthAdjust="spacingAndGlyphs">L</text>
<text x="82.37" y="278.4" class="lr" textLength="5.26" lengthAdjust="spacingAndGlyphs">W</text>
<text x="87.53" y="278.4" class="lr" textLength="5.26" lengthAdjust="spacingAndGlyphs">G</text>
<text x="95.32" y="278.4" text-anchor="middle" class="lr">P</text>
<text x="97.85" y="278.4" class="lr" textLength="5.26" lengthAdjust="spacingAndGlyphs">D</text>
<text x="105.64" y="278.4" text-anchor="middle" class="lr">P</text>
<text x="108.17" y="278.4" class="lr" textLength="5.26" lengthAdjust="spacingAndGlyphs">A</text>
<text x="113.33" y="278.4" class="lr" textLength="5.26" lengthAdjust="spacingAndGlyphs">A</text>
<text x="118.49" y="278.4" class="lr" textLength="5.26" lengthAdjust="spacingAndGlyphs">A</text>
<text x="131.44" y="278.4" text-anchor="middle" class="ll">(</text>
<text x="136.6" y="278.4" text-anchor="middle" class="lr">I</text>
<text x="141.76" y="278.4" text-anchor="middle" class="ll">n</text>
<text x="146.92" y="278.4" text-anchor="middle" class="ll">d</text>
<text x="152.08" y="278.4" text-anchor="middle" class="ll">e</text>
<text x="157.24" y="278.4" text-anchor="middle" class="ll">x</text>
<text x="162.4" y="278.4" text-anchor="middle" class="ll">)</text>
<polygon points="61.4,282.7 65.35,290.2 57.45,290.2" fill="#8c2a22"/>
<text x="72.05" y="289.25" class="lr" textLength="5.26" lengthAdjust="spacingAndGlyphs">R</text>
<text x="79.84" y="289.25" text-anchor="middle" class="lr">F</text>
<text x="85" y="289.25" text-anchor="middle" class="lr">P</text>
<text x="87.53" y="289.25" class="lr" textLength="5.26" lengthAdjust="spacingAndGlyphs">W</text>
<text x="92.69" y="289.25" class="lr" textLength="5.26" lengthAdjust="spacingAndGlyphs">M</text>
<text x="97.85" y="289.25" class="lr" textLength="5.26" lengthAdjust="spacingAndGlyphs">C</text>
<text x="105.64" y="289.25" text-anchor="middle" class="lr">P</text>
<text x="108.17" y="289.25" class="lr" textLength="5.26" lengthAdjust="spacingAndGlyphs">R</text>
<text x="113.33" y="289.25" class="lr" textLength="5.26" lengthAdjust="spacingAndGlyphs">V</text>
<polygon points="61.4,293.55 65.35,301.05 57.45,301.05" fill="#3f8a4a"/>
<text x="72.05" y="300.1" class="lr" textLength="5.26" lengthAdjust="spacingAndGlyphs">R</text>
<text x="79.84" y="300.1" text-anchor="middle" class="lr">F</text>
<text x="82.37" y="300.1" class="lr" textLength="5.26" lengthAdjust="spacingAndGlyphs">M</text>
<text x="87.53" y="300.1" class="lr" textLength="5.26" lengthAdjust="spacingAndGlyphs">C</text>
<text x="92.69" y="300.1" class="lr" textLength="5.26" lengthAdjust="spacingAndGlyphs">D</text>
<text x="97.85" y="300.1" class="lr" textLength="5.26" lengthAdjust="spacingAndGlyphs">C</text>
<text x="103.01" y="300.1" class="lr" textLength="5.26" lengthAdjust="spacingAndGlyphs">L</text>
<text x="108.17" y="300.1" class="lr" textLength="5.26" lengthAdjust="spacingAndGlyphs">R</text>
<text x="113.33" y="300.1" class="lr" textLength="5.26" lengthAdjust="spacingAndGlyphs">V</text>
<polygon points="61.4,304.4 65.35,311.9 57.45,311.9" fill="#3040a8"/>
<text x="72.05" y="310.95" class="lr" textLength="5.26" lengthAdjust="spacingAndGlyphs">R</text>
<text x="77.21" y="310.95" class="lr" textLength="5.26" lengthAdjust="spacingAndGlyphs">Q</text>
<text x="85" y="310.95" text-anchor="middle" class="lr">F</text>
<text x="90.16" y="310.95" text-anchor="middle" class="lr">S</text>
<text x="92.69" y="310.95" class="lr" textLength="5.26" lengthAdjust="spacingAndGlyphs">D</text>
<text x="97.85" y="310.95" class="lr" textLength="5.26" lengthAdjust="spacingAndGlyphs">C</text>
<text x="103.01" y="310.95" class="lr" textLength="5.26" lengthAdjust="spacingAndGlyphs">M</text>
<text x="108.17" y="310.95" class="lr" textLength="5.26" lengthAdjust="spacingAndGlyphs">R</text>
<text x="113.33" y="310.95" class="lr" textLength="5.26" lengthAdjust="spacingAndGlyphs">A</text>
<polygon points="61.4,315.25 65.35,322.75 57.45,322.75" fill="#eaa450"/>
<text x="72.05" y="321.8" class="lr" textLength="5.26" lengthAdjust="spacingAndGlyphs">R</text>
<text x="77.21" y="321.8" class="lr" textLength="5.26" lengthAdjust="spacingAndGlyphs">Q</text>
<text x="85" y="321.8" text-anchor="middle" class="lr">F</text>
<text x="90.16" y="321.8" text-anchor="middle" class="lr">S</text>
<text x="92.69" y="321.8" class="lr" textLength="5.26" lengthAdjust="spacingAndGlyphs">D</text>
<text x="100.48" y="321.8" text-anchor="middle" class="lr">F</text>
<text x="103.01" y="321.8" class="lr" textLength="5.26" lengthAdjust="spacingAndGlyphs">M</text>
<text x="108.17" y="321.8" class="lr" textLength="5.26" lengthAdjust="spacingAndGlyphs">R</text>
<text x="113.33" y="321.8" class="lr" textLength="5.26" lengthAdjust="spacingAndGlyphs">A</text>
<path d="M351.3,446.2 L372.3,446.2 L393.3,446.2 L414.3,446.2 L435.3,436.82 L456.3,342.72 L477.3,317.43 L498.3,315.1" fill="none" stroke="#0a0a0a" stroke-width="1.1" stroke-linejoin="round"/>
<rect x="347.3" y="442.2" width="8" height="8" fill="#0a0a0a"/>
<rect x="368.3" y="442.2" width="8" height="8" fill="#0a0a0a"/>
<rect x="389.3" y="442.2" width="8" height="8" fill="#0a0a0a"/>
<rect x="410.3" y="442.2" width="8" height="8" fill="#0a0a0a"/>
<rect x="431.3" y="432.82" width="8" height="8" fill="#0a0a0a"/>
<rect x="452.3" y="338.72" width="8" height="8" fill="#0a0a0a"/>
<rect x="473.3" y="313.43" width="8" height="8" fill="#0a0a0a"/>
<rect x="494.3" y="311.1" width="8" height="8" fill="#0a0a0a"/>
<line x1="372.3" y1="448.53" x2="372.3" y2="436.29" stroke="#d42a2e" stroke-width="1"/>
<line x1="368.5" y1="448.53" x2="376.1" y2="448.53" stroke="#d42a2e" stroke-width="1.0"/>
<line x1="368.5" y1="436.29" x2="376.1" y2="436.29" stroke="#d42a2e" stroke-width="1.0"/>
<path d="M351.3,446.2 L372.3,445.03 L393.3,437.34 L414.3,409.49 L435.3,324.01 L456.3,318.01 L477.3,312.77 L498.3,313.06" fill="none" stroke="#d42a2e" stroke-width="1.2" stroke-linejoin="round"/>
<polygon points="351.3,441.8 355.6,450 347,450" fill="#d42a2e"/>
<polygon points="372.3,440.63 376.6,448.83 368,448.83" fill="#d42a2e"/>
<polygon points="393.3,432.94 397.6,441.14 389,441.14" fill="#d42a2e"/>
<polygon points="414.3,405.09 418.6,413.29 410,413.29" fill="#d42a2e"/>
<polygon points="435.3,319.61 439.6,327.81 431,327.81" fill="#d42a2e"/>
<polygon points="456.3,313.61 460.6,321.81 452,321.81" fill="#d42a2e"/>
<polygon points="477.3,308.37 481.6,316.57 473,316.57" fill="#d42a2e"/>
<polygon points="498.3,308.66 502.6,316.86 494,316.86" fill="#d42a2e"/>
<line x1="456.3" y1="320.93" x2="456.3" y2="297.45" stroke="#7a4aa0" stroke-width="1"/>
<line x1="452.5" y1="320.93" x2="460.1" y2="320.93" stroke="#7a4aa0" stroke-width="1.0"/>
<line x1="452.5" y1="297.45" x2="460.1" y2="297.45" stroke="#7a4aa0" stroke-width="1.0"/>
<path d="M351.3,446.2 L372.3,444.45 L393.3,425.75 L414.3,321.68 L435.3,314.69 L456.3,309.04 L477.3,324.42 L498.3,316.27" fill="none" stroke="#7a4aa0" stroke-width="1.2" stroke-linejoin="round"/>
<polygon points="351.3,441.8 355.6,450 347,450" fill="#7a4aa0"/>
<polygon points="372.3,440.05 376.6,448.25 368,448.25" fill="#7a4aa0"/>
<polygon points="393.3,421.35 397.6,429.55 389,429.55" fill="#7a4aa0"/>
<polygon points="414.3,317.28 418.6,325.48 410,325.48" fill="#7a4aa0"/>
<polygon points="435.3,310.29 439.6,318.49 431,318.49" fill="#7a4aa0"/>
<polygon points="456.3,304.64 460.6,312.84 452,312.84" fill="#7a4aa0"/>
<polygon points="477.3,320.02 481.6,328.22 473,328.22" fill="#7a4aa0"/>
<polygon points="498.3,311.87 502.6,320.07 494,320.07" fill="#7a4aa0"/>
<path d="M351.3,446.2 L372.3,445.03 L393.3,429.94 L414.3,343.48 L435.3,318.19 L456.3,312.19 L477.3,323.84 L498.3,318.01" fill="none" stroke="#3a4cae" stroke-width="1.2" stroke-linejoin="round"/>
<polygon points="351.3,441.8 355.6,450 347,450" fill="#3a4cae"/>
<polygon points="372.3,440.63 376.6,448.83 368,448.83" fill="#3a4cae"/>
<polygon points="393.3,425.54 397.6,433.74 389,433.74" fill="#3a4cae"/>
<polygon points="414.3,339.08 418.6,347.28 410,347.28" fill="#3a4cae"/>
<polygon points="435.3,313.79 439.6,321.99 431,321.99" fill="#3a4cae"/>
<polygon points="456.3,307.79 460.6,315.99 452,315.99" fill="#3a4cae"/>
<polygon points="477.3,319.44 481.6,327.64 473,327.64" fill="#3a4cae"/>
<polygon points="498.3,313.61 502.6,321.81 494,321.81" fill="#3a4cae"/>
<line x1="414.3" y1="321.68" x2="414.3" y2="307.82" stroke="#82c8e0" stroke-width="1"/>
<line x1="410.5" y1="321.68" x2="418.1" y2="321.68" stroke="#82c8e0" stroke-width="1.0"/>
<line x1="410.5" y1="307.82" x2="418.1" y2="307.82" stroke="#82c8e0" stroke-width="1.0"/>
<line x1="435.3" y1="318.01" x2="435.3" y2="310.15" stroke="#82c8e0" stroke-width="1"/>
<line x1="431.5" y1="318.01" x2="439.1" y2="318.01" stroke="#82c8e0" stroke-width="1.0"/>
<line x1="431.5" y1="310.15" x2="439.1" y2="310.15" stroke="#82c8e0" stroke-width="1.0"/>
<line x1="477.3" y1="329.67" x2="477.3" y2="304.85" stroke="#82c8e0" stroke-width="1"/>
<line x1="473.5" y1="329.67" x2="481.1" y2="329.67" stroke="#82c8e0" stroke-width="1.0"/>
<line x1="473.5" y1="304.85" x2="481.1" y2="304.85" stroke="#82c8e0" stroke-width="1.0"/>
<path d="M351.3,446.2 L372.3,443.87 L393.3,417.24 L414.3,321.68 L435.3,314.69 L456.3,312.42 L477.3,324.42 L498.3,315.92" fill="none" stroke="#82c8e0" stroke-width="1.2" stroke-linejoin="round"/>
<polygon points="351.3,441.8 355.6,450 347,450" fill="#82c8e0"/>
<polygon points="372.3,439.47 376.6,447.67 368,447.67" fill="#82c8e0"/>
<polygon points="393.3,412.84 397.6,421.04 389,421.04" fill="#82c8e0"/>
<polygon points="414.3,317.28 418.6,325.48 410,325.48" fill="#82c8e0"/>
<polygon points="435.3,310.29 439.6,318.49 431,318.49" fill="#82c8e0"/>
<polygon points="456.3,308.02 460.6,316.22 452,316.22" fill="#82c8e0"/>
<polygon points="477.3,320.02 481.6,328.22 473,328.22" fill="#82c8e0"/>
<polygon points="498.3,311.52 502.6,319.72 494,319.72" fill="#82c8e0"/>
<line x1="435.3" y1="329.67" x2="435.3" y2="315.1" stroke="#d03838" stroke-width="1"/>
<line x1="431.5" y1="329.67" x2="439.1" y2="329.67" stroke="#d03838" stroke-width="1.0"/>
<line x1="431.5" y1="315.1" x2="439.1" y2="315.1" stroke="#d03838" stroke-width="1.0"/>
<path d="M351.3,446.2 L372.3,446.2 L393.3,446.2 L414.3,446.2 L435.3,375.58 L456.3,319.3 L477.3,313.53 L498.3,315.92" fill="none" stroke="#d03838" stroke-width="1.2" stroke-linejoin="round"/>
<polygon points="351.3,442.3 355,449.5 347.6,449.5" fill="#fff" stroke="#d03838" stroke-width="1.1" stroke-linejoin="miter"/>
<polygon points="372.3,442.3 376,449.5 368.6,449.5" fill="#fff" stroke="#d03838" stroke-width="1.1" stroke-linejoin="miter"/>
<polygon points="393.3,442.3 397,449.5 389.6,449.5" fill="#fff" stroke="#d03838" stroke-width="1.1" stroke-linejoin="miter"/>
<polygon points="414.3,442.3 418,449.5 410.6,449.5" fill="#fff" stroke="#d03838" stroke-width="1.1" stroke-linejoin="miter"/>
<polygon points="435.3,371.68 439,378.88 431.6,378.88" fill="#fff" stroke="#d03838" stroke-width="1.1" stroke-linejoin="miter"/>
<polygon points="456.3,315.4 460,322.6 452.6,322.6" fill="#fff" stroke="#d03838" stroke-width="1.1" stroke-linejoin="miter"/>
<polygon points="477.3,309.63 481,316.83 473.6,316.83" fill="#fff" stroke="#d03838" stroke-width="1.1" stroke-linejoin="miter"/>
<polygon points="498.3,312.02 502,319.22 494.6,319.22" fill="#fff" stroke="#d03838" stroke-width="1.1" stroke-linejoin="miter"/>
<path d="M351.3,446.2 L372.3,446.2 L393.3,446.2 L414.3,444.45 L435.3,444.45 L456.3,440.2 L477.3,411.71 L498.3,354.14" fill="none" stroke="#7a62a8" stroke-width="1.2" stroke-linejoin="round"/>
<polygon points="351.3,442.3 355,449.5 347.6,449.5" fill="#fff" stroke="#7a62a8" stroke-width="1.1" stroke-linejoin="miter"/>
<polygon points="372.3,442.3 376,449.5 368.6,449.5" fill="#fff" stroke="#7a62a8" stroke-width="1.1" stroke-linejoin="miter"/>
<polygon points="393.3,442.3 397,449.5 389.6,449.5" fill="#fff" stroke="#7a62a8" stroke-width="1.1" stroke-linejoin="miter"/>
<polygon points="414.3,440.55 418,447.75 410.6,447.75" fill="#fff" stroke="#7a62a8" stroke-width="1.1" stroke-linejoin="miter"/>
<polygon points="435.3,440.55 439,447.75 431.6,447.75" fill="#fff" stroke="#7a62a8" stroke-width="1.1" stroke-linejoin="miter"/>
<polygon points="456.3,436.3 460,443.5 452.6,443.5" fill="#fff" stroke="#7a62a8" stroke-width="1.1" stroke-linejoin="miter"/>
<polygon points="477.3,407.81 481,415.01 473.6,415.01" fill="#fff" stroke="#7a62a8" stroke-width="1.1" stroke-linejoin="miter"/>
<polygon points="498.3,350.24 502,357.44 494.6,357.44" fill="#fff" stroke="#7a62a8" stroke-width="1.1" stroke-linejoin="miter"/>
<path d="M351.3,446.2 L372.3,446.2 L393.3,446.2 L414.3,446.2 L435.3,446.2 L456.3,445.21 L477.3,442.3 L498.3,431.46" fill="none" stroke="#44468a" stroke-width="1.2" stroke-linejoin="round"/>
<polygon points="351.3,442.3 355,449.5 347.6,449.5" fill="#fff" stroke="#44468a" stroke-width="1.1" stroke-linejoin="miter"/>
<polygon points="372.3,442.3 376,449.5 368.6,449.5" fill="#fff" stroke="#44468a" stroke-width="1.1" stroke-linejoin="miter"/>
<polygon points="393.3,442.3 397,449.5 389.6,449.5" fill="#fff" stroke="#44468a" stroke-width="1.1" stroke-linejoin="miter"/>
<polygon points="414.3,442.3 418,449.5 410.6,449.5" fill="#fff" stroke="#44468a" stroke-width="1.1" stroke-linejoin="miter"/>
<polygon points="435.3,442.3 439,449.5 431.6,449.5" fill="#fff" stroke="#44468a" stroke-width="1.1" stroke-linejoin="miter"/>
<polygon points="456.3,441.31 460,448.51 452.6,448.51" fill="#fff" stroke="#44468a" stroke-width="1.1" stroke-linejoin="miter"/>
<polygon points="477.3,438.4 481,445.6 473.6,445.6" fill="#fff" stroke="#44468a" stroke-width="1.1" stroke-linejoin="miter"/>
<polygon points="498.3,427.56 502,434.76 494.6,434.76" fill="#fff" stroke="#44468a" stroke-width="1.1" stroke-linejoin="miter"/>
<path d="M351.3,446.2 L372.3,444.45 L393.3,444.74 L414.3,408.91 L435.3,318.01 L456.3,312.19 L477.3,307.82 L498.3,316.56" fill="none" stroke="#9cd0d8" stroke-width="1.2" stroke-linejoin="round"/>
<polygon points="351.3,442.3 355,449.5 347.6,449.5" fill="#fff" stroke="#9cd0d8" stroke-width="1.1" stroke-linejoin="miter"/>
<polygon points="372.3,440.55 376,447.75 368.6,447.75" fill="#fff" stroke="#9cd0d8" stroke-width="1.1" stroke-linejoin="miter"/>
<polygon points="393.3,440.84 397,448.04 389.6,448.04" fill="#fff" stroke="#9cd0d8" stroke-width="1.1" stroke-linejoin="miter"/>
<polygon points="414.3,405.01 418,412.21 410.6,412.21" fill="#fff" stroke="#9cd0d8" stroke-width="1.1" stroke-linejoin="miter"/>
<polygon points="435.3,314.11 439,321.31 431.6,321.31" fill="#fff" stroke="#9cd0d8" stroke-width="1.1" stroke-linejoin="miter"/>
<polygon points="456.3,308.29 460,315.49 452.6,315.49" fill="#fff" stroke="#9cd0d8" stroke-width="1.1" stroke-linejoin="miter"/>
<polygon points="477.3,303.92 481,311.12 473.6,311.12" fill="#fff" stroke="#9cd0d8" stroke-width="1.1" stroke-linejoin="miter"/>
<polygon points="498.3,312.66 502,319.86 494.6,319.86" fill="#fff" stroke="#9cd0d8" stroke-width="1.1" stroke-linejoin="miter"/>
<rect x="333.8" y="271.8" width="7.6" height="7.6" fill="#0a0a0a"/>
<text x="347.95" y="278.4" class="lr" textLength="5.26" lengthAdjust="spacingAndGlyphs">A</text>
<text x="353.11" y="278.4" class="lr" textLength="5.26" lengthAdjust="spacingAndGlyphs">L</text>
<text x="358.27" y="278.4" class="lr" textLength="5.26" lengthAdjust="spacingAndGlyphs">W</text>
<text x="363.43" y="278.4" class="lr" textLength="5.26" lengthAdjust="spacingAndGlyphs">G</text>
<text x="371.22" y="278.4" text-anchor="middle" class="lr">P</text>
<text x="373.75" y="278.4" class="lr" textLength="5.26" lengthAdjust="spacingAndGlyphs">D</text>
<text x="381.54" y="278.4" text-anchor="middle" class="lr">P</text>
<text x="384.07" y="278.4" class="lr" textLength="5.26" lengthAdjust="spacingAndGlyphs">A</text>
<text x="389.23" y="278.4" class="lr" textLength="5.26" lengthAdjust="spacingAndGlyphs">A</text>
<text x="394.39" y="278.4" class="lr" textLength="5.26" lengthAdjust="spacingAndGlyphs">A</text>
<text x="407.34" y="278.4" text-anchor="middle" class="ll">(</text>
<text x="412.5" y="278.4" text-anchor="middle" class="lr">I</text>
<text x="417.66" y="278.4" text-anchor="middle" class="ll">n</text>
<text x="422.82" y="278.4" text-anchor="middle" class="ll">d</text>
<text x="427.98" y="278.4" text-anchor="middle" class="ll">e</text>
<text x="433.14" y="278.4" text-anchor="middle" class="ll">x</text>
<text x="438.3" y="278.4" text-anchor="middle" class="ll">)</text>
<polygon points="337.6,282.07 342.1,290.67 333.1,290.67" fill="#d42a2e"/>
<text x="347.95" y="289.17" class="lr" textLength="5.26" lengthAdjust="spacingAndGlyphs">A</text>
<text x="353.11" y="289.17" class="lb" textLength="5.26" lengthAdjust="spacingAndGlyphs">Q</text>
<text x="358.27" y="289.17" class="lr" textLength="5.26" lengthAdjust="spacingAndGlyphs">W</text>
<text x="363.43" y="289.17" class="lr" textLength="5.26" lengthAdjust="spacingAndGlyphs">G</text>
<text x="371.22" y="289.17" text-anchor="middle" class="lr">P</text>
<text x="373.75" y="289.17" class="lr" textLength="5.26" lengthAdjust="spacingAndGlyphs">D</text>
<text x="381.54" y="289.17" text-anchor="middle" class="lr">P</text>
<text x="384.07" y="289.17" class="lr" textLength="5.26" lengthAdjust="spacingAndGlyphs">A</text>
<text x="389.23" y="289.17" class="lr" textLength="5.26" lengthAdjust="spacingAndGlyphs">A</text>
<text x="394.39" y="289.17" class="lb" textLength="5.26" lengthAdjust="spacingAndGlyphs">V</text>
<rect x="353.36" y="290.77" width="4.76" height="1.3" fill="#000"/>
<rect x="394.64" y="290.77" width="4.76" height="1.3" fill="#000"/>
<polygon points="337.6,292.84 342.1,301.44 333.1,301.44" fill="#7a4aa0"/>
<text x="347.95" y="299.94" class="lb" textLength="5.26" lengthAdjust="spacingAndGlyphs">R</text>
<text x="353.11" y="299.94" class="lb" textLength="5.26" lengthAdjust="spacingAndGlyphs">Q</text>
<text x="358.27" y="299.94" class="lr" textLength="5.26" lengthAdjust="spacingAndGlyphs">W</text>
<text x="363.43" y="299.94" class="lr" textLength="5.26" lengthAdjust="spacingAndGlyphs">G</text>
<text x="371.22" y="299.94" text-anchor="middle" class="lr">P</text>
<text x="373.75" y="299.94" class="lr" textLength="5.26" lengthAdjust="spacingAndGlyphs">D</text>
<text x="381.54" y="299.94" text-anchor="middle" class="lr">P</text>
<text x="384.07" y="299.94" class="lr" textLength="5.26" lengthAdjust="spacingAndGlyphs">A</text>
<text x="389.23" y="299.94" class="lr" textLength="5.26" lengthAdjust="spacingAndGlyphs">A</text>
<text x="394.39" y="299.94" class="lb" textLength="5.26" lengthAdjust="spacingAndGlyphs">V</text>
<rect x="348.2" y="301.54" width="9.92" height="1.3" fill="#000"/>
<rect x="394.64" y="301.54" width="4.76" height="1.3" fill="#000"/>
<polygon points="337.6,303.61 342.1,312.21 333.1,312.21" fill="#3a4cae"/>
<text x="347.95" y="310.71" class="lr" textLength="5.26" lengthAdjust="spacingAndGlyphs">A</text>
<text x="353.11" y="310.71" class="lb" textLength="5.26" lengthAdjust="spacingAndGlyphs">Q</text>
<text x="358.27" y="310.71" class="lr" textLength="5.26" lengthAdjust="spacingAndGlyphs">W</text>
<text x="363.43" y="310.71" class="lr" textLength="5.26" lengthAdjust="spacingAndGlyphs">G</text>
<text x="371.22" y="310.71" text-anchor="middle" class="lr">P</text>
<text x="373.75" y="310.71" class="lr" textLength="5.26" lengthAdjust="spacingAndGlyphs">D</text>
<text x="381.54" y="310.71" text-anchor="middle" class="lr">P</text>
<text x="384.07" y="310.71" class="lb" textLength="5.26" lengthAdjust="spacingAndGlyphs">P</text>
<text x="389.23" y="310.71" class="lr" textLength="5.26" lengthAdjust="spacingAndGlyphs">A</text>
<text x="394.39" y="310.71" class="lb" textLength="5.26" lengthAdjust="spacingAndGlyphs">V</text>
<rect x="353.36" y="312.31" width="4.76" height="1.3" fill="#000"/>
<rect x="384.32" y="312.31" width="4.76" height="1.3" fill="#000"/>
<rect x="394.64" y="312.31" width="4.76" height="1.3" fill="#000"/>
<polygon points="337.6,314.38 342.1,322.98 333.1,322.98" fill="#82c8e0"/>
<text x="347.95" y="321.48" class="lb" textLength="5.26" lengthAdjust="spacingAndGlyphs">R</text>
<text x="353.11" y="321.48" class="lb" textLength="5.26" lengthAdjust="spacingAndGlyphs">Q</text>
<text x="358.27" y="321.48" class="lr" textLength="5.26" lengthAdjust="spacingAndGlyphs">W</text>
<text x="363.43" y="321.48" class="lr" textLength="5.26" lengthAdjust="spacingAndGlyphs">G</text>
<text x="371.22" y="321.48" text-anchor="middle" class="lr">P</text>
<text x="373.75" y="321.48" class="lr" textLength="5.26" lengthAdjust="spacingAndGlyphs">D</text>
<text x="381.54" y="321.48" text-anchor="middle" class="lr">P</text>
<text x="384.07" y="321.48" class="lb" textLength="5.26" lengthAdjust="spacingAndGlyphs">P</text>
<text x="389.23" y="321.48" class="lr" textLength="5.26" lengthAdjust="spacingAndGlyphs">A</text>
<text x="394.39" y="321.48" class="lb" textLength="5.26" lengthAdjust="spacingAndGlyphs">V</text>
<rect x="348.2" y="323.08" width="9.92" height="1.3" fill="#000"/>
<rect x="384.32" y="323.08" width="4.76" height="1.3" fill="#000"/>
<rect x="394.64" y="323.08" width="4.76" height="1.3" fill="#000"/>
<polygon points="337.6,325.65 341.5,333.25 333.7,333.25" fill="#fff" stroke="#d03838" stroke-width="1.1" stroke-linejoin="miter"/>
<text x="347.95" y="332.25" class="lr" textLength="5.26" lengthAdjust="spacingAndGlyphs">A</text>
<text x="353.11" y="332.25" class="lb" textLength="5.26" lengthAdjust="spacingAndGlyphs">Q</text>
<text x="358.27" y="332.25" class="lr" textLength="5.26" lengthAdjust="spacingAndGlyphs">W</text>
<text x="363.43" y="332.25" class="lr" textLength="5.26" lengthAdjust="spacingAndGlyphs">G</text>
<text x="371.22" y="332.25" text-anchor="middle" class="lr">P</text>
<text x="373.75" y="332.25" class="lr" textLength="5.26" lengthAdjust="spacingAndGlyphs">D</text>
<text x="381.54" y="332.25" text-anchor="middle" class="lr">P</text>
<text x="384.07" y="332.25" class="lr" textLength="5.26" lengthAdjust="spacingAndGlyphs">A</text>
<text x="391.86" y="332.25" text-anchor="middle" class="lb">I</text>
<text x="394.39" y="332.25" class="lb" textLength="5.26" lengthAdjust="spacingAndGlyphs">V</text>
<rect x="353.36" y="333.85" width="4.76" height="1.3" fill="#000"/>
<rect x="389.48" y="333.85" width="9.92" height="1.3" fill="#000"/>
<polygon points="337.6,336.42 341.5,344.02 333.7,344.02" fill="#fff" stroke="#7a62a8" stroke-width="1.1" stroke-linejoin="miter"/>
<text x="347.95" y="343.02" class="lr" textLength="5.26" lengthAdjust="spacingAndGlyphs">A</text>
<text x="353.11" y="343.02" class="lb" textLength="5.26" lengthAdjust="spacingAndGlyphs">Q</text>
<text x="358.27" y="343.02" class="lr" textLength="5.26" lengthAdjust="spacingAndGlyphs">W</text>
<text x="363.43" y="343.02" class="lr" textLength="5.26" lengthAdjust="spacingAndGlyphs">G</text>
<text x="371.22" y="343.02" text-anchor="middle" class="lr">P</text>
<text x="373.75" y="343.02" class="lr" textLength="5.26" lengthAdjust="spacingAndGlyphs">D</text>
<text x="378.91" y="343.02" class="lb" textLength="5.26" lengthAdjust="spacingAndGlyphs">F</text>
<text x="384.07" y="343.02" class="lr" textLength="5.26" lengthAdjust="spacingAndGlyphs">A</text>
<text x="389.23" y="343.02" class="lr" textLength="5.26" lengthAdjust="spacingAndGlyphs">A</text>
<text x="394.39" y="343.02" class="lb" textLength="5.26" lengthAdjust="spacingAndGlyphs">V</text>
<rect x="353.36" y="344.62" width="4.76" height="1.3" fill="#000"/>
<rect x="379.16" y="344.62" width="4.76" height="1.3" fill="#000"/>
<rect x="394.64" y="344.62" width="4.76" height="1.3" fill="#000"/>
<polygon points="337.6,347.19 341.5,354.79 333.7,354.79" fill="#fff" stroke="#44468a" stroke-width="1.1" stroke-linejoin="miter"/>
<text x="347.95" y="353.79" class="lr" textLength="5.26" lengthAdjust="spacingAndGlyphs">A</text>
<text x="353.11" y="353.79" class="lb" textLength="5.26" lengthAdjust="spacingAndGlyphs">Q</text>
<text x="358.27" y="353.79" class="lb" textLength="5.26" lengthAdjust="spacingAndGlyphs">F</text>
<text x="363.43" y="353.79" class="lr" textLength="5.26" lengthAdjust="spacingAndGlyphs">G</text>
<text x="371.22" y="353.79" text-anchor="middle" class="lr">P</text>
<text x="373.75" y="353.79" class="lr" textLength="5.26" lengthAdjust="spacingAndGlyphs">D</text>
<text x="381.54" y="353.79" text-anchor="middle" class="lr">P</text>
<text x="384.07" y="353.79" class="lr" textLength="5.26" lengthAdjust="spacingAndGlyphs">A</text>
<text x="389.23" y="353.79" class="lr" textLength="5.26" lengthAdjust="spacingAndGlyphs">A</text>
<text x="394.39" y="353.79" class="lb" textLength="5.26" lengthAdjust="spacingAndGlyphs">V</text>
<rect x="353.36" y="355.39" width="9.92" height="1.3" fill="#000"/>
<rect x="394.64" y="355.39" width="4.76" height="1.3" fill="#000"/>
<polygon points="337.6,357.96 341.5,365.56 333.7,365.56" fill="#fff" stroke="#9cd0d8" stroke-width="1.1" stroke-linejoin="miter"/>
<text x="347.95" y="364.56" class="lb" textLength="5.26" lengthAdjust="spacingAndGlyphs">R</text>
<text x="353.11" y="364.56" class="lb" textLength="5.26" lengthAdjust="spacingAndGlyphs">Q</text>
<text x="358.27" y="364.56" class="lb" textLength="5.26" lengthAdjust="spacingAndGlyphs">F</text>
<text x="363.43" y="364.56" class="lr" textLength="5.26" lengthAdjust="spacingAndGlyphs">G</text>
<text x="371.22" y="364.56" text-anchor="middle" class="lr">P</text>
<text x="373.75" y="364.56" class="lr" textLength="5.26" lengthAdjust="spacingAndGlyphs">D</text>
<text x="378.91" y="364.56" class="lb" textLength="5.26" lengthAdjust="spacingAndGlyphs">F</text>
<text x="384.07" y="364.56" class="lb" textLength="5.26" lengthAdjust="spacingAndGlyphs">P</text>
<text x="391.86" y="364.56" text-anchor="middle" class="lb">I</text>
<text x="394.39" y="364.56" class="lb" textLength="5.26" lengthAdjust="spacingAndGlyphs">V</text>
<rect x="348.2" y="366.16" width="15.08" height="1.3" fill="#000"/>
<rect x="379.16" y="366.16" width="20.24" height="1.3" fill="#000"/>
</svg></body></html>
